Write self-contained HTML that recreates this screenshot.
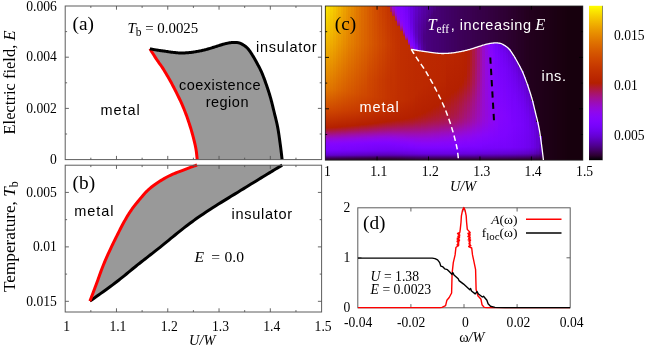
<!DOCTYPE html>
<html><head><meta charset="utf-8"><title>fig</title>
<style>
html,body{margin:0;padding:0;background:#fff;}
svg{display:block;}
.se{font-family:"Liberation Serif",serif;}
.sa{font-family:"Liberation Sans",sans-serif;}

</style></head><body>
<svg width="645" height="346" viewBox="0 0 645 346">
<defs><filter id="idf" x="0" y="0" width="645" height="346" filterUnits="userSpaceOnUse" color-interpolation-filters="sRGB"><feOffset dx="0" dy="0"/></filter><linearGradient id="cb" x1="0" y1="0" x2="0" y2="1"><stop offset="0.0000" stop-color="#ffff00"/><stop offset="0.0312" stop-color="#fbe800"/><stop offset="0.0625" stop-color="#f7d200"/><stop offset="0.0938" stop-color="#f3be00"/><stop offset="0.1250" stop-color="#efab00"/><stop offset="0.1562" stop-color="#ea9900"/><stop offset="0.1875" stop-color="#e68900"/><stop offset="0.2188" stop-color="#e17a00"/><stop offset="0.2500" stop-color="#dd6c00"/><stop offset="0.2812" stop-color="#d85f00"/><stop offset="0.3125" stop-color="#d35300"/><stop offset="0.3438" stop-color="#cf4800"/><stop offset="0.3750" stop-color="#ca3e00"/><stop offset="0.4062" stop-color="#c43500"/><stop offset="0.4375" stop-color="#bf2d00"/><stop offset="0.4688" stop-color="#ba2600"/><stop offset="0.5000" stop-color="#b42000"/><stop offset="0.5312" stop-color="#af1a32"/><stop offset="0.5625" stop-color="#a91562"/><stop offset="0.5938" stop-color="#a3118e"/><stop offset="0.6250" stop-color="#9c0db4"/><stop offset="0.6562" stop-color="#960ad4"/><stop offset="0.6875" stop-color="#8f08ec"/><stop offset="0.7188" stop-color="#8706fa"/><stop offset="0.7500" stop-color="#8004ff"/><stop offset="0.7812" stop-color="#7703fa"/><stop offset="0.8125" stop-color="#6e02ec"/><stop offset="0.8438" stop-color="#6501d4"/><stop offset="0.8750" stop-color="#5a00b4"/><stop offset="0.9062" stop-color="#4e008e"/><stop offset="0.9375" stop-color="#400062"/><stop offset="0.9688" stop-color="#2d0032"/><stop offset="1.0000" stop-color="#000000"/></linearGradient><linearGradient id="h0" x2="0" y2="1"><stop offset="0" stop-color="#fae400"/><stop offset=".536" stop-color="#e17800"/><stop offset=".682" stop-color="#ce4600"/><stop offset=".789" stop-color="#b52000"/><stop offset=".795" stop-color="#b31e0f"/><stop offset=".838" stop-color="#a11098"/><stop offset=".851" stop-color="#9b0dbc"/><stop offset=".860" stop-color="#960bd2"/><stop offset=".870" stop-color="#9109e4"/><stop offset=".883" stop-color="#8b07f5"/><stop offset=".893" stop-color="#8605fc"/><stop offset=".909" stop-color="#8104ff"/><stop offset=".929" stop-color="#7d04ff"/><stop offset=".938" stop-color="#7703fa"/><stop offset=".951" stop-color="#6e02ec"/><stop offset=".964" stop-color="#6501d4"/><stop offset=".968" stop-color="#6101ca"/><stop offset=".981" stop-color="#49007d"/><stop offset=".990" stop-color="#38004c"/><stop offset="1" stop-color="#2b002e"/></linearGradient>
<linearGradient id="h1" x2="0" y2="1"><stop offset="0" stop-color="#f9dc00"/><stop offset=".234" stop-color="#f0b200"/><stop offset=".536" stop-color="#e07600"/><stop offset=".682" stop-color="#cd4500"/><stop offset=".789" stop-color="#b42000"/><stop offset=".799" stop-color="#b11d1c"/><stop offset=".838" stop-color="#a11099"/><stop offset=".857" stop-color="#970bcd"/><stop offset=".870" stop-color="#9109e5"/><stop offset=".883" stop-color="#8a06f5"/><stop offset=".893" stop-color="#8505fc"/><stop offset=".909" stop-color="#8104ff"/><stop offset=".929" stop-color="#7d03fe"/><stop offset=".938" stop-color="#7703fa"/><stop offset=".951" stop-color="#6e02eb"/><stop offset=".964" stop-color="#6401d3"/><stop offset=".968" stop-color="#6101c9"/><stop offset=".981" stop-color="#48007c"/><stop offset=".990" stop-color="#37004a"/><stop offset="1" stop-color="#2b002d"/></linearGradient>
<linearGradient id="h2" x2="0" y2="1"><stop offset="0" stop-color="#f7d200"/><stop offset=".237" stop-color="#efac00"/><stop offset=".539" stop-color="#df7200"/><stop offset=".679" stop-color="#cd4500"/><stop offset=".786" stop-color="#b52100"/><stop offset=".789" stop-color="#b42002"/><stop offset=".792" stop-color="#b31f0b"/><stop offset=".841" stop-color="#9f0fa5"/><stop offset=".860" stop-color="#950ad5"/><stop offset=".870" stop-color="#9008e6"/><stop offset=".883" stop-color="#8a06f6"/><stop offset=".893" stop-color="#8505fd"/><stop offset=".909" stop-color="#8004ff"/><stop offset=".929" stop-color="#7c03fe"/><stop offset=".938" stop-color="#7703f9"/><stop offset=".951" stop-color="#6e02ea"/><stop offset=".964" stop-color="#6401d2"/><stop offset=".968" stop-color="#6101c8"/><stop offset=".981" stop-color="#48007b"/><stop offset=".990" stop-color="#370049"/><stop offset="1" stop-color="#2a002c"/></linearGradient>
<linearGradient id="h3" x2="0" y2="1"><stop offset="0" stop-color="#f5c800"/><stop offset=".240" stop-color="#eda500"/><stop offset=".542" stop-color="#dd6e00"/><stop offset=".682" stop-color="#cc4300"/><stop offset=".786" stop-color="#b52000"/><stop offset=".789" stop-color="#b41f06"/><stop offset=".795" stop-color="#b11d19"/><stop offset=".838" stop-color="#a0109e"/><stop offset=".857" stop-color="#970bd0"/><stop offset=".867" stop-color="#9209e2"/><stop offset=".880" stop-color="#8b07f4"/><stop offset=".893" stop-color="#8505fd"/><stop offset=".906" stop-color="#8104ff"/><stop offset=".929" stop-color="#7c03fe"/><stop offset=".938" stop-color="#7603f9"/><stop offset=".951" stop-color="#6d02e9"/><stop offset=".964" stop-color="#6401d1"/><stop offset=".968" stop-color="#6001c7"/><stop offset=".981" stop-color="#480079"/><stop offset=".990" stop-color="#370048"/><stop offset="1" stop-color="#2a002b"/></linearGradient>
<linearGradient id="h4" x2="0" y2="1"><stop offset="0" stop-color="#f3be00"/><stop offset=".240" stop-color="#eb9e00"/><stop offset=".545" stop-color="#dc6900"/><stop offset=".682" stop-color="#cb4200"/><stop offset=".786" stop-color="#b42000"/><stop offset=".834" stop-color="#a11097"/><stop offset=".857" stop-color="#960bd1"/><stop offset=".867" stop-color="#9109e3"/><stop offset=".880" stop-color="#8b07f4"/><stop offset=".893" stop-color="#8405fd"/><stop offset=".906" stop-color="#8004ff"/><stop offset=".929" stop-color="#7c03fe"/><stop offset=".938" stop-color="#7603f9"/><stop offset=".951" stop-color="#6d02e9"/><stop offset=".964" stop-color="#6301d0"/><stop offset=".968" stop-color="#6001c6"/><stop offset=".981" stop-color="#470078"/><stop offset=".990" stop-color="#360047"/><stop offset="1" stop-color="#29002a"/></linearGradient>
<linearGradient id="h5" x2="0" y2="1"><stop offset="0" stop-color="#f1b400"/><stop offset=".240" stop-color="#ea9800"/><stop offset=".545" stop-color="#db6600"/><stop offset=".679" stop-color="#cb4200"/><stop offset=".782" stop-color="#b52000"/><stop offset=".786" stop-color="#b41f04"/><stop offset=".792" stop-color="#b21d17"/><stop offset=".838" stop-color="#9f0fa3"/><stop offset=".857" stop-color="#960ad3"/><stop offset=".867" stop-color="#9109e5"/><stop offset=".880" stop-color="#8a07f5"/><stop offset=".893" stop-color="#8405fd"/><stop offset=".906" stop-color="#8004ff"/><stop offset=".929" stop-color="#7b03fe"/><stop offset=".938" stop-color="#7602f8"/><stop offset=".951" stop-color="#6d02e8"/><stop offset=".964" stop-color="#6301cf"/><stop offset=".968" stop-color="#5f01c5"/><stop offset=".981" stop-color="#470077"/><stop offset=".990" stop-color="#360046"/><stop offset="1" stop-color="#290029"/></linearGradient>
<linearGradient id="h6" x2="0" y2="1"><stop offset="0" stop-color="#efab00"/><stop offset=".244" stop-color="#e89200"/><stop offset=".549" stop-color="#da6200"/><stop offset=".679" stop-color="#cb4000"/><stop offset=".782" stop-color="#b42000"/><stop offset=".799" stop-color="#af1b2e"/><stop offset=".834" stop-color="#a0109c"/><stop offset=".854" stop-color="#970bce"/><stop offset=".864" stop-color="#9209e0"/><stop offset=".877" stop-color="#8c07f2"/><stop offset=".890" stop-color="#8505fd"/><stop offset=".903" stop-color="#8104ff"/><stop offset=".935" stop-color="#7703fa"/><stop offset=".948" stop-color="#6f02ec"/><stop offset=".964" stop-color="#6201cd"/><stop offset=".968" stop-color="#5f01c3"/><stop offset=".981" stop-color="#460076"/><stop offset=".990" stop-color="#350045"/><stop offset="1" stop-color="#280028"/></linearGradient>
<linearGradient id="h7" x2="0" y2="1"><stop offset="0" stop-color="#eca200"/><stop offset=".244" stop-color="#e78c00"/><stop offset=".552" stop-color="#d85f00"/><stop offset=".679" stop-color="#ca3f00"/><stop offset=".779" stop-color="#b52100"/><stop offset=".782" stop-color="#b42003"/><stop offset=".792" stop-color="#b11c1e"/><stop offset=".838" stop-color="#9e0fa7"/><stop offset=".857" stop-color="#950ad6"/><stop offset=".867" stop-color="#9008e7"/><stop offset=".880" stop-color="#8a06f6"/><stop offset=".890" stop-color="#8505fd"/><stop offset=".903" stop-color="#8004ff"/><stop offset=".935" stop-color="#7703fa"/><stop offset=".948" stop-color="#6e02eb"/><stop offset=".961" stop-color="#6501d4"/><stop offset=".968" stop-color="#5f01c2"/><stop offset=".981" stop-color="#460074"/><stop offset=".990" stop-color="#350044"/><stop offset="1" stop-color="#280027"/></linearGradient>
<linearGradient id="h8" x2="0" y2="1"><stop offset="0" stop-color="#ea9900"/><stop offset=".244" stop-color="#e58600"/><stop offset=".555" stop-color="#d75b00"/><stop offset=".679" stop-color="#ca3e00"/><stop offset=".779" stop-color="#b42000"/><stop offset=".795" stop-color="#af1b2b"/><stop offset=".834" stop-color="#a00fa0"/><stop offset=".854" stop-color="#960bd1"/><stop offset=".864" stop-color="#9109e3"/><stop offset=".877" stop-color="#8b07f4"/><stop offset=".890" stop-color="#8405fd"/><stop offset=".899" stop-color="#8104ff"/><stop offset=".929" stop-color="#7a03fd"/><stop offset=".935" stop-color="#7703f9"/><stop offset=".948" stop-color="#6e02ea"/><stop offset=".961" stop-color="#6401d3"/><stop offset=".968" stop-color="#5e01c1"/><stop offset=".981" stop-color="#460073"/><stop offset=".990" stop-color="#340043"/><stop offset="1" stop-color="#270026"/></linearGradient>
<linearGradient id="h9" x2="0" y2="1"><stop offset="0" stop-color="#e89100"/><stop offset=".244" stop-color="#e38000"/><stop offset=".558" stop-color="#d65800"/><stop offset=".679" stop-color="#c93d00"/><stop offset=".776" stop-color="#b52100"/><stop offset=".779" stop-color="#b42002"/><stop offset=".786" stop-color="#b21e14"/><stop offset=".834" stop-color="#9f0fa3"/><stop offset=".854" stop-color="#960bd2"/><stop offset=".864" stop-color="#9109e4"/><stop offset=".877" stop-color="#8b07f5"/><stop offset=".890" stop-color="#8405fd"/><stop offset=".899" stop-color="#8004ff"/><stop offset=".929" stop-color="#7a03fd"/><stop offset=".935" stop-color="#7603f9"/><stop offset=".948" stop-color="#6e02ea"/><stop offset=".961" stop-color="#6401d1"/><stop offset=".968" stop-color="#5e01c0"/><stop offset=".981" stop-color="#450072"/><stop offset=".990" stop-color="#340042"/><stop offset="1" stop-color="#270025"/></linearGradient>
<linearGradient id="h10" x2="0" y2="1"><stop offset="0" stop-color="#e68900"/><stop offset=".244" stop-color="#e27b00"/><stop offset=".562" stop-color="#d45500"/><stop offset=".679" stop-color="#c83c00"/><stop offset=".776" stop-color="#b52000"/><stop offset=".792" stop-color="#b01b29"/><stop offset=".834" stop-color="#9f0fa5"/><stop offset=".854" stop-color="#960ad4"/><stop offset=".864" stop-color="#9109e5"/><stop offset=".877" stop-color="#8a06f5"/><stop offset=".890" stop-color="#8405fe"/><stop offset=".899" stop-color="#8004ff"/><stop offset=".932" stop-color="#7803fb"/><stop offset=".945" stop-color="#6f02ee"/><stop offset=".961" stop-color="#6401d0"/><stop offset=".968" stop-color="#5e01bf"/><stop offset=".981" stop-color="#450071"/><stop offset=".990" stop-color="#340041"/><stop offset="1" stop-color="#260024"/></linearGradient>
<linearGradient id="h11" x2="0" y2="1"><stop offset="0" stop-color="#e48100"/><stop offset=".244" stop-color="#e07600"/><stop offset=".565" stop-color="#d35200"/><stop offset=".679" stop-color="#c83b00"/><stop offset=".773" stop-color="#b52100"/><stop offset=".776" stop-color="#b42002"/><stop offset=".782" stop-color="#b21e13"/><stop offset=".831" stop-color="#a0109e"/><stop offset=".854" stop-color="#950ad5"/><stop offset=".873" stop-color="#8c07f3"/><stop offset=".886" stop-color="#8505fd"/><stop offset=".896" stop-color="#8104ff"/><stop offset=".932" stop-color="#7803fb"/><stop offset=".945" stop-color="#6f02ed"/><stop offset=".958" stop-color="#6601d6"/><stop offset=".968" stop-color="#5d01be"/><stop offset=".981" stop-color="#44006f"/><stop offset=".987" stop-color="#39004f"/><stop offset=".990" stop-color="#330040"/><stop offset="1" stop-color="#260023"/></linearGradient>
<linearGradient id="h12" x2="0" y2="1"><stop offset="0" stop-color="#e17900"/><stop offset=".244" stop-color="#df7100"/><stop offset=".568" stop-color="#d24f00"/><stop offset=".679" stop-color="#c73a00"/><stop offset=".773" stop-color="#b42000"/><stop offset=".792" stop-color="#af1a31"/><stop offset=".834" stop-color="#9e0eaa"/><stop offset=".851" stop-color="#960bd0"/><stop offset=".860" stop-color="#9209e2"/><stop offset=".873" stop-color="#8b07f4"/><stop offset=".886" stop-color="#8505fd"/><stop offset=".896" stop-color="#8004ff"/><stop offset=".932" stop-color="#7703fa"/><stop offset=".945" stop-color="#6f02ec"/><stop offset=".958" stop-color="#6501d5"/><stop offset=".968" stop-color="#5d01bc"/><stop offset=".981" stop-color="#44006e"/><stop offset=".987" stop-color="#39004e"/><stop offset=".990" stop-color="#33003f"/><stop offset="1" stop-color="#250022"/></linearGradient>
<linearGradient id="h13" x2="0" y2="1"><stop offset="0" stop-color="#df7200"/><stop offset=".247" stop-color="#dd6c00"/><stop offset=".571" stop-color="#d04c00"/><stop offset=".679" stop-color="#c63900"/><stop offset=".769" stop-color="#b52000"/><stop offset=".773" stop-color="#b42003"/><stop offset=".782" stop-color="#b11d1b"/><stop offset=".831" stop-color="#9f0fa3"/><stop offset=".851" stop-color="#960bd2"/><stop offset=".860" stop-color="#9109e4"/><stop offset=".873" stop-color="#8b07f4"/><stop offset=".886" stop-color="#8405fd"/><stop offset=".896" stop-color="#8004ff"/><stop offset=".932" stop-color="#7703fa"/><stop offset=".945" stop-color="#6e02eb"/><stop offset=".958" stop-color="#6501d4"/><stop offset=".968" stop-color="#5c01bb"/><stop offset=".981" stop-color="#44006d"/><stop offset=".987" stop-color="#38004d"/><stop offset=".990" stop-color="#32003e"/><stop offset="1" stop-color="#250021"/></linearGradient>
<linearGradient id="h14" x2="0" y2="1"><stop offset="0" stop-color="#dd6b00"/><stop offset=".247" stop-color="#db6700"/><stop offset=".575" stop-color="#cf4900"/><stop offset=".679" stop-color="#c63700"/><stop offset=".769" stop-color="#b42000"/><stop offset=".792" stop-color="#ae1a38"/><stop offset=".834" stop-color="#9d0eae"/><stop offset=".851" stop-color="#960ad3"/><stop offset=".870" stop-color="#8c07f2"/><stop offset=".883" stop-color="#8605fc"/><stop offset=".893" stop-color="#8104ff"/><stop offset=".932" stop-color="#7703f9"/><stop offset=".945" stop-color="#6e02eb"/><stop offset=".958" stop-color="#6401d3"/><stop offset=".968" stop-color="#5c01ba"/><stop offset=".981" stop-color="#43006c"/><stop offset=".987" stop-color="#38004c"/><stop offset=".990" stop-color="#32003d"/><stop offset="1" stop-color="#240020"/></linearGradient>
<linearGradient id="h15" x2="0" y2="1"><stop offset="0" stop-color="#da6500"/><stop offset=".247" stop-color="#da6200"/><stop offset=".578" stop-color="#ce4700"/><stop offset=".679" stop-color="#c53600"/><stop offset=".766" stop-color="#b52000"/><stop offset=".769" stop-color="#b41f03"/><stop offset=".782" stop-color="#b01c22"/><stop offset=".831" stop-color="#9e0fa8"/><stop offset=".851" stop-color="#950ad5"/><stop offset=".870" stop-color="#8c07f2"/><stop offset=".883" stop-color="#8505fc"/><stop offset=".893" stop-color="#8004ff"/><stop offset=".932" stop-color="#7603f9"/><stop offset=".945" stop-color="#6e02ea"/><stop offset=".958" stop-color="#6401d2"/><stop offset=".968" stop-color="#5c01b9"/><stop offset=".981" stop-color="#43006a"/><stop offset=".987" stop-color="#38004b"/><stop offset=".990" stop-color="#32003c"/><stop offset="1" stop-color="#240020"/></linearGradient>
<linearGradient id="h16" x2="0" y2="1"><stop offset="0" stop-color="#d85e00"/><stop offset=".247" stop-color="#d85e00"/><stop offset=".477" stop-color="#cf4900"/><stop offset=".581" stop-color="#cd4400"/><stop offset=".679" stop-color="#c43500"/><stop offset=".766" stop-color="#b42000"/><stop offset=".792" stop-color="#ad193f"/><stop offset=".831" stop-color="#9e0eaa"/><stop offset=".847" stop-color="#970bd0"/><stop offset=".857" stop-color="#9209e2"/><stop offset=".870" stop-color="#8b07f3"/><stop offset=".883" stop-color="#8505fd"/><stop offset=".893" stop-color="#8004ff"/><stop offset=".932" stop-color="#7602f8"/><stop offset=".945" stop-color="#6d02e9"/><stop offset=".958" stop-color="#6401d1"/><stop offset=".968" stop-color="#5b01b8"/><stop offset=".981" stop-color="#420069"/><stop offset=".987" stop-color="#37004a"/><stop offset=".990" stop-color="#31003b"/><stop offset="1" stop-color="#23001f"/></linearGradient>
<linearGradient id="h17" x2="0" y2="1"><stop offset="0" stop-color="#d65800"/><stop offset=".247" stop-color="#d65900"/><stop offset=".477" stop-color="#ce4600"/><stop offset=".584" stop-color="#cc4200"/><stop offset=".679" stop-color="#c43400"/><stop offset=".763" stop-color="#b52000"/><stop offset=".766" stop-color="#b41f04"/><stop offset=".782" stop-color="#af1b2a"/><stop offset=".831" stop-color="#9e0eac"/><stop offset=".851" stop-color="#950ad8"/><stop offset=".870" stop-color="#8b07f4"/><stop offset=".883" stop-color="#8405fd"/><stop offset=".893" stop-color="#8004ff"/><stop offset=".932" stop-color="#7602f8"/><stop offset=".945" stop-color="#6d02e8"/><stop offset=".958" stop-color="#6301d0"/><stop offset=".968" stop-color="#5b01b6"/><stop offset=".981" stop-color="#420068"/><stop offset=".987" stop-color="#370049"/><stop offset=".990" stop-color="#31003a"/><stop offset="1" stop-color="#23001e"/></linearGradient>
<linearGradient id="h18" x2="0" y2="1"><stop offset="0" stop-color="#d35200"/><stop offset=".247" stop-color="#d45500"/><stop offset=".477" stop-color="#cc4400"/><stop offset=".584" stop-color="#cb4000"/><stop offset=".662" stop-color="#c53600"/><stop offset=".760" stop-color="#b52100"/><stop offset=".763" stop-color="#b42002"/><stop offset=".779" stop-color="#b01c26"/><stop offset=".831" stop-color="#9d0eae"/><stop offset=".851" stop-color="#940ad9"/><stop offset=".870" stop-color="#8b07f5"/><stop offset=".883" stop-color="#8405fd"/><stop offset=".893" stop-color="#7f04ff"/><stop offset=".932" stop-color="#7502f8"/><stop offset=".942" stop-color="#6f02ec"/><stop offset=".955" stop-color="#6501d6"/><stop offset=".964" stop-color="#5e01c0"/><stop offset=".968" stop-color="#5a01b5"/><stop offset=".981" stop-color="#420067"/><stop offset=".987" stop-color="#360048"/><stop offset=".990" stop-color="#310039"/><stop offset="1" stop-color="#22001d"/></linearGradient>
<linearGradient id="h19" x2="0" y2="1"><stop offset="0" stop-color="#d14d00"/><stop offset=".247" stop-color="#d35100"/><stop offset=".481" stop-color="#cb4100"/><stop offset=".588" stop-color="#c93e00"/><stop offset=".666" stop-color="#c43500"/><stop offset=".760" stop-color="#b42000"/><stop offset=".782" stop-color="#af1a32"/><stop offset=".828" stop-color="#9e0fa8"/><stop offset=".847" stop-color="#950ad4"/><stop offset=".867" stop-color="#8c07f2"/><stop offset=".877" stop-color="#8706fa"/><stop offset=".890" stop-color="#8004ff"/><stop offset=".932" stop-color="#7502f7"/><stop offset=".942" stop-color="#6e02eb"/><stop offset=".955" stop-color="#6501d5"/><stop offset=".964" stop-color="#5d01bf"/><stop offset=".968" stop-color="#5a00b4"/><stop offset=".981" stop-color="#410066"/><stop offset=".987" stop-color="#360047"/><stop offset=".990" stop-color="#300039"/><stop offset="1" stop-color="#22001c"/></linearGradient>
<linearGradient id="h20" x2="0" y2="1"><stop offset="0" stop-color="#ce4700"/><stop offset=".247" stop-color="#d14d00"/><stop offset=".481" stop-color="#c93e00"/><stop offset=".591" stop-color="#c83c00"/><stop offset=".666" stop-color="#c33400"/><stop offset=".756" stop-color="#b52000"/><stop offset=".760" stop-color="#b41f04"/><stop offset=".779" stop-color="#af1b2e"/><stop offset=".828" stop-color="#9e0eab"/><stop offset=".847" stop-color="#950ad6"/><stop offset=".867" stop-color="#8c07f3"/><stop offset=".877" stop-color="#8706fb"/><stop offset=".890" stop-color="#8004ff"/><stop offset=".932" stop-color="#7402f6"/><stop offset=".942" stop-color="#6e02eb"/><stop offset=".955" stop-color="#6501d4"/><stop offset=".964" stop-color="#5d01bd"/><stop offset=".968" stop-color="#5a00b3"/><stop offset=".981" stop-color="#410065"/><stop offset=".987" stop-color="#360046"/><stop offset=".990" stop-color="#300038"/><stop offset="1" stop-color="#21001b"/></linearGradient>
<linearGradient id="h21" x2="0" y2="1"><stop offset="0" stop-color="#cc4200"/><stop offset=".247" stop-color="#cf4900"/><stop offset=".481" stop-color="#c83b00"/><stop offset=".594" stop-color="#c73a00"/><stop offset=".666" stop-color="#c33200"/><stop offset=".753" stop-color="#b52000"/><stop offset=".756" stop-color="#b42002"/><stop offset=".779" stop-color="#af1a32"/><stop offset=".828" stop-color="#9e0ead"/><stop offset=".847" stop-color="#950ad7"/><stop offset=".867" stop-color="#8b07f3"/><stop offset=".877" stop-color="#8705fb"/><stop offset=".890" stop-color="#8004ff"/><stop offset=".932" stop-color="#7402f6"/><stop offset=".942" stop-color="#6e02ea"/><stop offset=".955" stop-color="#6401d3"/><stop offset=".964" stop-color="#5d01bc"/><stop offset=".968" stop-color="#5900b2"/><stop offset=".981" stop-color="#410064"/><stop offset=".984" stop-color="#3b0055"/><stop offset=".990" stop-color="#300037"/><stop offset="1" stop-color="#21001b"/></linearGradient>
<linearGradient id="h22" x2="0" y2="1"><stop offset="0" stop-color="#c93d00"/><stop offset=".247" stop-color="#cd4500"/><stop offset=".481" stop-color="#c63900"/><stop offset=".594" stop-color="#c63800"/><stop offset=".669" stop-color="#c13100"/><stop offset=".753" stop-color="#b42000"/><stop offset=".782" stop-color="#ad193e"/><stop offset=".828" stop-color="#9d0eae"/><stop offset=".847" stop-color="#950ad8"/><stop offset=".867" stop-color="#8b07f3"/><stop offset=".877" stop-color="#8605fb"/><stop offset=".890" stop-color="#8004ff"/><stop offset=".932" stop-color="#7402f6"/><stop offset=".942" stop-color="#6d02ea"/><stop offset=".955" stop-color="#6401d2"/><stop offset=".964" stop-color="#5d01bc"/><stop offset=".968" stop-color="#5900b1"/><stop offset=".981" stop-color="#400063"/><stop offset=".984" stop-color="#3b0054"/><stop offset=".990" stop-color="#2f0037"/><stop offset="1" stop-color="#21001a"/></linearGradient>
<linearGradient id="h23" x2="0" y2="1"><stop offset="0" stop-color="#c73900"/><stop offset=".247" stop-color="#cb4100"/><stop offset=".484" stop-color="#c53600"/><stop offset=".597" stop-color="#c53600"/><stop offset=".669" stop-color="#c12f00"/><stop offset=".750" stop-color="#b42000"/><stop offset=".779" stop-color="#ae193a"/><stop offset=".828" stop-color="#9d0eb0"/><stop offset=".847" stop-color="#940ad8"/><stop offset=".867" stop-color="#8b07f3"/><stop offset=".877" stop-color="#8605fb"/><stop offset=".890" stop-color="#8004ff"/><stop offset=".932" stop-color="#7402f5"/><stop offset=".942" stop-color="#6d02e9"/><stop offset=".955" stop-color="#6401d2"/><stop offset=".964" stop-color="#5c01bb"/><stop offset=".968" stop-color="#5900b0"/><stop offset=".981" stop-color="#400063"/><stop offset=".984" stop-color="#3b0054"/><stop offset=".990" stop-color="#300037"/><stop offset="1" stop-color="#20001a"/></linearGradient>
<linearGradient id="h24" x2="0" y2="1"><stop offset="0" stop-color="#ab174e"/><stop offset=".003" stop-color="#ac1844"/><stop offset=".006" stop-color="#c43500"/><stop offset=".247" stop-color="#c93d00"/><stop offset=".484" stop-color="#c43400"/><stop offset=".597" stop-color="#c43400"/><stop offset=".666" stop-color="#c02f00"/><stop offset=".747" stop-color="#b52000"/><stop offset=".753" stop-color="#b31f09"/><stop offset=".776" stop-color="#ae1a37"/><stop offset=".828" stop-color="#9d0eb1"/><stop offset=".847" stop-color="#940ad8"/><stop offset=".857" stop-color="#9008e8"/><stop offset=".870" stop-color="#8a06f6"/><stop offset=".883" stop-color="#8305fe"/><stop offset=".893" stop-color="#7f04ff"/><stop offset=".932" stop-color="#7402f5"/><stop offset=".945" stop-color="#6b01e4"/><stop offset=".958" stop-color="#6201cc"/><stop offset=".968" stop-color="#5900af"/><stop offset=".981" stop-color="#400063"/><stop offset=".990" stop-color="#300038"/><stop offset="1" stop-color="#200019"/></linearGradient>
<linearGradient id="h25" x2="0" y2="1"><stop offset="0" stop-color="#9f0fa6"/><stop offset=".019" stop-color="#a61472"/><stop offset=".036" stop-color="#ad1940"/><stop offset=".039" stop-color="#c33300"/><stop offset=".250" stop-color="#c73900"/><stop offset=".484" stop-color="#c23200"/><stop offset=".601" stop-color="#c33200"/><stop offset=".669" stop-color="#bf2d00"/><stop offset=".744" stop-color="#b52000"/><stop offset=".750" stop-color="#b31f08"/><stop offset=".773" stop-color="#ae1a33"/><stop offset=".831" stop-color="#9b0db8"/><stop offset=".851" stop-color="#9309de"/><stop offset=".860" stop-color="#8f08ec"/><stop offset=".873" stop-color="#8906f8"/><stop offset=".886" stop-color="#8205fe"/><stop offset=".899" stop-color="#7d04fe"/><stop offset=".932" stop-color="#7402f5"/><stop offset=".945" stop-color="#6b01e4"/><stop offset=".958" stop-color="#6201cc"/><stop offset=".968" stop-color="#5900af"/><stop offset=".981" stop-color="#410064"/><stop offset=".990" stop-color="#300039"/><stop offset="1" stop-color="#200019"/></linearGradient>
<linearGradient id="h26" x2="0" y2="1"><stop offset="0" stop-color="#9008e7"/><stop offset=".010" stop-color="#940adb"/><stop offset=".026" stop-color="#9b0dbb"/><stop offset=".045" stop-color="#a31287"/><stop offset=".058" stop-color="#a9165f"/><stop offset=".065" stop-color="#ac1847"/><stop offset=".068" stop-color="#c23100"/><stop offset=".253" stop-color="#c53600"/><stop offset=".604" stop-color="#c23100"/><stop offset=".669" stop-color="#be2c00"/><stop offset=".744" stop-color="#b42001"/><stop offset=".776" stop-color="#ad193d"/><stop offset=".828" stop-color="#9d0eb1"/><stop offset=".847" stop-color="#950ad8"/><stop offset=".870" stop-color="#8a07f5"/><stop offset=".893" stop-color="#8004ff"/><stop offset=".932" stop-color="#7402f5"/><stop offset=".945" stop-color="#6b01e5"/><stop offset=".958" stop-color="#6201cd"/><stop offset=".968" stop-color="#5900af"/><stop offset=".981" stop-color="#410065"/><stop offset=".990" stop-color="#31003a"/><stop offset="1" stop-color="#200019"/></linearGradient>
<linearGradient id="h27" x2="0" y2="1"><stop offset="0" stop-color="#8405fd"/><stop offset=".023" stop-color="#8b07f3"/><stop offset=".042" stop-color="#9209e3"/><stop offset=".052" stop-color="#960ad4"/><stop offset=".062" stop-color="#9a0dbe"/><stop offset=".081" stop-color="#a41282"/><stop offset=".097" stop-color="#ad1843"/><stop offset=".101" stop-color="#c13000"/><stop offset=".256" stop-color="#c33300"/><stop offset=".607" stop-color="#c13000"/><stop offset=".669" stop-color="#be2b00"/><stop offset=".740" stop-color="#b42000"/><stop offset=".776" stop-color="#ad193f"/><stop offset=".828" stop-color="#9d0eb1"/><stop offset=".847" stop-color="#950ad7"/><stop offset=".870" stop-color="#8b07f4"/><stop offset=".893" stop-color="#8004ff"/><stop offset=".916" stop-color="#7903fc"/><stop offset=".932" stop-color="#7402f5"/><stop offset=".945" stop-color="#6c01e5"/><stop offset=".958" stop-color="#6301ce"/><stop offset=".968" stop-color="#5900b0"/><stop offset=".981" stop-color="#410066"/><stop offset=".990" stop-color="#31003b"/><stop offset="1" stop-color="#200019"/></linearGradient>
<linearGradient id="h28" x2="0" y2="1"><stop offset="0" stop-color="#8104ff"/><stop offset=".052" stop-color="#8706fb"/><stop offset=".071" stop-color="#8d07ef"/><stop offset=".088" stop-color="#940ada"/><stop offset=".097" stop-color="#9a0cc2"/><stop offset=".104" stop-color="#9e0eac"/><stop offset=".117" stop-color="#a5137a"/><stop offset=".127" stop-color="#ab174d"/><stop offset=".130" stop-color="#c02f00"/><stop offset=".256" stop-color="#c23100"/><stop offset=".607" stop-color="#c02e00"/><stop offset=".669" stop-color="#bd2a00"/><stop offset=".737" stop-color="#b52000"/><stop offset=".747" stop-color="#b31e0d"/><stop offset=".769" stop-color="#ae1a35"/><stop offset=".831" stop-color="#9c0db7"/><stop offset=".851" stop-color="#940adb"/><stop offset=".873" stop-color="#8a06f6"/><stop offset=".896" stop-color="#8004ff"/><stop offset=".932" stop-color="#7402f6"/><stop offset=".945" stop-color="#6c01e6"/><stop offset=".958" stop-color="#6301d0"/><stop offset=".968" stop-color="#5900b0"/><stop offset=".981" stop-color="#420067"/><stop offset=".990" stop-color="#32003d"/><stop offset="1" stop-color="#20001a"/></linearGradient>
<linearGradient id="h29" x2="0" y2="1"><stop offset="0" stop-color="#7d04ff"/><stop offset=".091" stop-color="#8405fd"/><stop offset=".107" stop-color="#8b07f4"/><stop offset=".120" stop-color="#9109e5"/><stop offset=".127" stop-color="#950ad8"/><stop offset=".136" stop-color="#9c0db7"/><stop offset=".149" stop-color="#a5137c"/><stop offset=".156" stop-color="#aa165a"/><stop offset=".159" stop-color="#ac1848"/><stop offset=".162" stop-color="#c02e00"/><stop offset=".607" stop-color="#bf2e00"/><stop offset=".737" stop-color="#b42001"/><stop offset=".773" stop-color="#ad193d"/><stop offset=".831" stop-color="#9c0db7"/><stop offset=".851" stop-color="#940ad9"/><stop offset=".864" stop-color="#8f08eb"/><stop offset=".877" stop-color="#8906f7"/><stop offset=".899" stop-color="#8004ff"/><stop offset=".932" stop-color="#7402f6"/><stop offset=".945" stop-color="#6c02e7"/><stop offset=".958" stop-color="#6401d1"/><stop offset=".968" stop-color="#5900b1"/><stop offset=".981" stop-color="#420069"/><stop offset=".990" stop-color="#33003e"/><stop offset="1" stop-color="#20001a"/></linearGradient>
<linearGradient id="h30" x2="0" y2="1"><stop offset="0" stop-color="#7903fc"/><stop offset=".123" stop-color="#8305fe"/><stop offset=".136" stop-color="#8505fd"/><stop offset=".149" stop-color="#8c07f2"/><stop offset=".162" stop-color="#940ada"/><stop offset=".169" stop-color="#9a0cc2"/><stop offset=".175" stop-color="#9f0fa1"/><stop offset=".185" stop-color="#a7146b"/><stop offset=".192" stop-color="#ad1940"/><stop offset=".195" stop-color="#bf2e00"/><stop offset=".607" stop-color="#bf2d00"/><stop offset=".734" stop-color="#b42000"/><stop offset=".769" stop-color="#ae1939"/><stop offset=".831" stop-color="#9c0db6"/><stop offset=".851" stop-color="#950ad8"/><stop offset=".864" stop-color="#8f08ea"/><stop offset=".877" stop-color="#8a06f6"/><stop offset=".899" stop-color="#8004ff"/><stop offset=".916" stop-color="#7b03fd"/><stop offset=".932" stop-color="#7502f7"/><stop offset=".945" stop-color="#6d02e8"/><stop offset=".958" stop-color="#6401d3"/><stop offset=".968" stop-color="#5900b2"/><stop offset=".981" stop-color="#43006b"/><stop offset=".990" stop-color="#330040"/><stop offset="1" stop-color="#21001a"/></linearGradient>
<linearGradient id="h31" x2="0" y2="1"><stop offset="0" stop-color="#7402f6"/><stop offset=".136" stop-color="#7f04ff"/><stop offset=".175" stop-color="#8405fd"/><stop offset=".182" stop-color="#8806f9"/><stop offset=".195" stop-color="#9109e3"/><stop offset=".198" stop-color="#940ad9"/><stop offset=".205" stop-color="#9b0dba"/><stop offset=".214" stop-color="#a5137e"/><stop offset=".221" stop-color="#ab174f"/><stop offset=".224" stop-color="#bf2d00"/><stop offset=".604" stop-color="#be2c00"/><stop offset=".731" stop-color="#b42000"/><stop offset=".766" stop-color="#ae1a36"/><stop offset=".831" stop-color="#9c0db5"/><stop offset=".857" stop-color="#9209e0"/><stop offset=".873" stop-color="#8c07f2"/><stop offset=".886" stop-color="#8605fb"/><stop offset=".916" stop-color="#7b03fe"/><stop offset=".935" stop-color="#7302f4"/><stop offset=".958" stop-color="#6501d5"/><stop offset=".968" stop-color="#5a00b3"/><stop offset=".981" stop-color="#43006d"/><stop offset="1" stop-color="#21001b"/></linearGradient>
<linearGradient id="h32" x2="0" y2="1"><stop offset="0" stop-color="#6e02ea"/><stop offset=".107" stop-color="#7402f6"/><stop offset=".175" stop-color="#7d04fe"/><stop offset=".218" stop-color="#8706fb"/><stop offset=".224" stop-color="#8c07f1"/><stop offset=".231" stop-color="#9209e1"/><stop offset=".237" stop-color="#9a0cc1"/><stop offset=".247" stop-color="#a5137c"/><stop offset=".253" stop-color="#ac1846"/><stop offset=".256" stop-color="#be2c00"/><stop offset=".604" stop-color="#bd2b00"/><stop offset=".727" stop-color="#b42000"/><stop offset=".747" stop-color="#b11d1a"/><stop offset=".766" stop-color="#ae1939"/><stop offset=".831" stop-color="#9c0db5"/><stop offset=".857" stop-color="#9309df"/><stop offset=".873" stop-color="#8c07f1"/><stop offset=".886" stop-color="#8706fa"/><stop offset=".899" stop-color="#8204ff"/><stop offset=".916" stop-color="#7c03fe"/><stop offset=".935" stop-color="#7402f5"/><stop offset=".958" stop-color="#6601d7"/><stop offset=".968" stop-color="#5a00b4"/><stop offset=".981" stop-color="#44006e"/><stop offset="1" stop-color="#22001c"/></linearGradient>
<linearGradient id="h33" x2="0" y2="1"><stop offset="0" stop-color="#6701da"/><stop offset=".026" stop-color="#6901e0"/><stop offset=".104" stop-color="#6a01e2"/><stop offset=".143" stop-color="#6d02e9"/><stop offset=".214" stop-color="#7b03fe"/><stop offset=".237" stop-color="#8104ff"/><stop offset=".253" stop-color="#8605fb"/><stop offset=".260" stop-color="#8d07f0"/><stop offset=".266" stop-color="#940ada"/><stop offset=".273" stop-color="#9d0eae"/><stop offset=".279" stop-color="#a61378"/><stop offset=".282" stop-color="#be2c00"/><stop offset=".597" stop-color="#bd2a00"/><stop offset=".721" stop-color="#b52000"/><stop offset=".737" stop-color="#b21e11"/><stop offset=".760" stop-color="#af1a32"/><stop offset=".831" stop-color="#9c0db5"/><stop offset=".857" stop-color="#9309dd"/><stop offset=".873" stop-color="#8d07f0"/><stop offset=".886" stop-color="#8806f9"/><stop offset=".899" stop-color="#8305fe"/><stop offset=".916" stop-color="#7d04fe"/><stop offset=".935" stop-color="#7402f6"/><stop offset=".958" stop-color="#6701d9"/><stop offset=".968" stop-color="#5b01b6"/><stop offset=".981" stop-color="#450070"/><stop offset="1" stop-color="#22001d"/></linearGradient>
<linearGradient id="h34" x2="0" y2="1"><stop offset="0" stop-color="#6301ce"/><stop offset=".029" stop-color="#6401d1"/><stop offset=".114" stop-color="#6201cd"/><stop offset=".153" stop-color="#6401d1"/><stop offset=".182" stop-color="#6601d8"/><stop offset=".244" stop-color="#7703fa"/><stop offset=".263" stop-color="#7d04ff"/><stop offset=".282" stop-color="#8305fe"/><stop offset=".286" stop-color="#bd2b00"/><stop offset=".588" stop-color="#bc2a00"/><stop offset=".718" stop-color="#b42000"/><stop offset=".737" stop-color="#b21d15"/><stop offset=".760" stop-color="#ae1a36"/><stop offset=".831" stop-color="#9c0db5"/><stop offset=".857" stop-color="#9309dc"/><stop offset=".873" stop-color="#8d07ee"/><stop offset=".890" stop-color="#8706fa"/><stop offset=".919" stop-color="#7c03fe"/><stop offset=".938" stop-color="#7302f4"/><stop offset=".958" stop-color="#6701da"/><stop offset=".968" stop-color="#5b01b7"/><stop offset=".981" stop-color="#450072"/><stop offset="1" stop-color="#23001d"/></linearGradient>
<linearGradient id="h35" x2="0" y2="1"><stop offset="0" stop-color="#5e01c1"/><stop offset=".032" stop-color="#5f01c3"/><stop offset=".127" stop-color="#5b01b8"/><stop offset=".172" stop-color="#5c01bb"/><stop offset=".201" stop-color="#5f01c3"/><stop offset=".234" stop-color="#6401d2"/><stop offset=".276" stop-color="#7302f5"/><stop offset=".286" stop-color="#7602f8"/><stop offset=".289" stop-color="#bd2a00"/><stop offset=".565" stop-color="#bc2900"/><stop offset=".711" stop-color="#b42000"/><stop offset=".731" stop-color="#b21e12"/><stop offset=".756" stop-color="#ae1a35"/><stop offset=".831" stop-color="#9c0db5"/><stop offset=".860" stop-color="#9209e0"/><stop offset=".890" stop-color="#8806f9"/><stop offset=".919" stop-color="#7d04fe"/><stop offset=".938" stop-color="#7302f4"/><stop offset=".958" stop-color="#6801dc"/><stop offset=".968" stop-color="#5b01b8"/><stop offset=".981" stop-color="#460074"/><stop offset=".994" stop-color="#31003b"/><stop offset="1" stop-color="#23001e"/></linearGradient>
<linearGradient id="h36" x2="0" y2="1"><stop offset="0" stop-color="#5a00b3"/><stop offset=".026" stop-color="#5a01b5"/><stop offset=".133" stop-color="#5600a7"/><stop offset=".192" stop-color="#5600a7"/><stop offset=".234" stop-color="#5800af"/><stop offset=".279" stop-color="#6301ce"/><stop offset=".289" stop-color="#6301cf"/><stop offset=".292" stop-color="#bd2a00"/><stop offset=".536" stop-color="#bc2900"/><stop offset=".705" stop-color="#b52000"/><stop offset=".727" stop-color="#b21e14"/><stop offset=".753" stop-color="#ae1a34"/><stop offset=".776" stop-color="#aa1657"/><stop offset=".831" stop-color="#9c0db6"/><stop offset=".860" stop-color="#9309df"/><stop offset=".890" stop-color="#8806f9"/><stop offset=".919" stop-color="#7d04ff"/><stop offset=".938" stop-color="#7402f5"/><stop offset=".958" stop-color="#6801de"/><stop offset=".968" stop-color="#5c01ba"/><stop offset=".981" stop-color="#460076"/><stop offset=".994" stop-color="#32003c"/><stop offset="1" stop-color="#23001f"/></linearGradient>
<linearGradient id="h37" x2="0" y2="1"><stop offset="0" stop-color="#5700a9"/><stop offset=".036" stop-color="#5700a9"/><stop offset=".133" stop-color="#52009a"/><stop offset=".182" stop-color="#510097"/><stop offset=".227" stop-color="#52009a"/><stop offset=".292" stop-color="#5700a9"/><stop offset=".295" stop-color="#bc2900"/><stop offset=".526" stop-color="#bc2900"/><stop offset=".698" stop-color="#b42000"/><stop offset=".727" stop-color="#b11d19"/><stop offset=".753" stop-color="#ae1a38"/><stop offset=".831" stop-color="#9c0db7"/><stop offset=".860" stop-color="#9309df"/><stop offset=".890" stop-color="#8906f8"/><stop offset=".919" stop-color="#7e04ff"/><stop offset=".938" stop-color="#7402f6"/><stop offset=".958" stop-color="#6901df"/><stop offset=".968" stop-color="#5c01bb"/><stop offset=".981" stop-color="#470077"/><stop offset=".994" stop-color="#32003d"/><stop offset="1" stop-color="#24001f"/></linearGradient>
<linearGradient id="h38" x2="0" y2="1"><stop offset="0" stop-color="#5400a2"/><stop offset=".042" stop-color="#5400a0"/><stop offset=".195" stop-color="#4b0083"/><stop offset=".227" stop-color="#4b0084"/><stop offset=".292" stop-color="#4f0091"/><stop offset=".295" stop-color="#bc2900"/><stop offset=".519" stop-color="#bc2800"/><stop offset=".692" stop-color="#b42000"/><stop offset=".724" stop-color="#b11d1b"/><stop offset=".750" stop-color="#ae1a38"/><stop offset=".773" stop-color="#aa1659"/><stop offset=".831" stop-color="#9b0db8"/><stop offset=".860" stop-color="#9309df"/><stop offset=".890" stop-color="#8906f8"/><stop offset=".919" stop-color="#7e04ff"/><stop offset=".938" stop-color="#7402f6"/><stop offset=".958" stop-color="#6901e0"/><stop offset=".968" stop-color="#5c01bb"/><stop offset=".981" stop-color="#470078"/><stop offset=".990" stop-color="#38004d"/><stop offset="1" stop-color="#240020"/></linearGradient>
<linearGradient id="h39" x2="0" y2="1"><stop offset="0" stop-color="#52009b"/><stop offset=".052" stop-color="#510095"/><stop offset=".120" stop-color="#49007f"/><stop offset=".295" stop-color="#49007f"/><stop offset=".299" stop-color="#bc2800"/><stop offset=".513" stop-color="#bb2800"/><stop offset=".682" stop-color="#b42000"/><stop offset=".718" stop-color="#b11d1a"/><stop offset=".747" stop-color="#ae1a39"/><stop offset=".773" stop-color="#a9165d"/><stop offset=".831" stop-color="#9b0dba"/><stop offset=".860" stop-color="#9309df"/><stop offset=".890" stop-color="#8906f8"/><stop offset=".919" stop-color="#7e04ff"/><stop offset=".938" stop-color="#7402f6"/><stop offset=".958" stop-color="#6901e0"/><stop offset=".968" stop-color="#5d01bc"/><stop offset=".981" stop-color="#470079"/><stop offset=".990" stop-color="#39004e"/><stop offset="1" stop-color="#240020"/></linearGradient>
<linearGradient id="h40" x2="0" y2="1"><stop offset="0" stop-color="#500093"/><stop offset=".045" stop-color="#4e008e"/><stop offset=".091" stop-color="#48007b"/><stop offset=".299" stop-color="#48007b"/><stop offset=".302" stop-color="#bb2800"/><stop offset=".510" stop-color="#bb2700"/><stop offset=".675" stop-color="#b42000"/><stop offset=".718" stop-color="#b11c1f"/><stop offset=".747" stop-color="#ad193d"/><stop offset=".769" stop-color="#a9165c"/><stop offset=".831" stop-color="#9b0dbb"/><stop offset=".860" stop-color="#9209e0"/><stop offset=".890" stop-color="#8906f8"/><stop offset=".919" stop-color="#7e04ff"/><stop offset=".938" stop-color="#7402f6"/><stop offset=".958" stop-color="#6901e0"/><stop offset=".968" stop-color="#5d01bc"/><stop offset=".981" stop-color="#470079"/><stop offset=".990" stop-color="#39004e"/><stop offset="1" stop-color="#240020"/></linearGradient>
<linearGradient id="h41" x2="0" y2="1"><stop offset="0" stop-color="#4d008b"/><stop offset=".032" stop-color="#4c0088"/><stop offset=".065" stop-color="#470078"/><stop offset=".302" stop-color="#470078"/><stop offset=".305" stop-color="#bb2800"/><stop offset=".503" stop-color="#ba2700"/><stop offset=".666" stop-color="#b42000"/><stop offset=".711" stop-color="#b11c1e"/><stop offset=".744" stop-color="#ad193d"/><stop offset=".769" stop-color="#a9165f"/><stop offset=".831" stop-color="#9a0dbe"/><stop offset=".864" stop-color="#9109e5"/><stop offset=".893" stop-color="#8706fa"/><stop offset=".919" stop-color="#7e04ff"/><stop offset=".938" stop-color="#7402f6"/><stop offset=".958" stop-color="#6901e0"/><stop offset=".968" stop-color="#5d01bc"/><stop offset=".981" stop-color="#470079"/><stop offset=".990" stop-color="#39004e"/><stop offset="1" stop-color="#240020"/></linearGradient>
<linearGradient id="h42" x2="0" y2="1"><stop offset="0" stop-color="#4a0080"/><stop offset=".016" stop-color="#4a0080"/><stop offset=".045" stop-color="#460075"/><stop offset=".302" stop-color="#460075"/><stop offset=".305" stop-color="#bb2800"/><stop offset=".497" stop-color="#ba2700"/><stop offset=".653" stop-color="#b42000"/><stop offset=".705" stop-color="#b11c1e"/><stop offset=".740" stop-color="#ad193d"/><stop offset=".766" stop-color="#a9165e"/><stop offset=".831" stop-color="#9a0cc0"/><stop offset=".864" stop-color="#9108e6"/><stop offset=".893" stop-color="#8706fa"/><stop offset=".919" stop-color="#7e04ff"/><stop offset=".938" stop-color="#7402f6"/><stop offset=".958" stop-color="#6901e0"/><stop offset=".968" stop-color="#5d01bc"/><stop offset=".981" stop-color="#470079"/><stop offset=".990" stop-color="#39004e"/><stop offset="1" stop-color="#240020"/></linearGradient>
<linearGradient id="h43" x2="0" y2="1"><stop offset="0" stop-color="#460073"/><stop offset=".305" stop-color="#450073"/><stop offset=".308" stop-color="#bb2700"/><stop offset=".494" stop-color="#ba2600"/><stop offset=".643" stop-color="#b42000"/><stop offset=".705" stop-color="#b01c23"/><stop offset=".740" stop-color="#ad1941"/><stop offset=".766" stop-color="#a91561"/><stop offset=".831" stop-color="#990cc2"/><stop offset=".864" stop-color="#9008e7"/><stop offset=".893" stop-color="#8706fb"/><stop offset=".919" stop-color="#7e04ff"/><stop offset=".938" stop-color="#7402f6"/><stop offset=".958" stop-color="#6901e0"/><stop offset=".968" stop-color="#5d01bc"/><stop offset=".981" stop-color="#470079"/><stop offset=".990" stop-color="#39004e"/><stop offset="1" stop-color="#240020"/></linearGradient>
<linearGradient id="h44" x2="0" y2="1"><stop offset="0" stop-color="#440070"/><stop offset=".305" stop-color="#440070"/><stop offset=".308" stop-color="#bb2700"/><stop offset=".487" stop-color="#ba2600"/><stop offset=".627" stop-color="#b42000"/><stop offset=".688" stop-color="#b11c1e"/><stop offset=".727" stop-color="#ae1a38"/><stop offset=".760" stop-color="#a9165c"/><stop offset=".821" stop-color="#9c0db7"/><stop offset=".854" stop-color="#9309df"/><stop offset=".886" stop-color="#8906f8"/><stop offset=".919" stop-color="#7e04ff"/><stop offset=".938" stop-color="#7402f6"/><stop offset=".958" stop-color="#6901e0"/><stop offset=".968" stop-color="#5d01bc"/><stop offset=".981" stop-color="#470079"/><stop offset=".990" stop-color="#39004e"/><stop offset="1" stop-color="#240020"/></linearGradient>
<linearGradient id="h45" x2="0" y2="1"><stop offset="0" stop-color="#43006d"/><stop offset=".305" stop-color="#43006d"/><stop offset=".308" stop-color="#ba2700"/><stop offset=".484" stop-color="#b92600"/><stop offset=".614" stop-color="#b42000"/><stop offset=".688" stop-color="#b01c23"/><stop offset=".727" stop-color="#ad193d"/><stop offset=".760" stop-color="#a9165f"/><stop offset=".821" stop-color="#9b0dba"/><stop offset=".851" stop-color="#9309dd"/><stop offset=".886" stop-color="#8806f9"/><stop offset=".919" stop-color="#7e04ff"/><stop offset=".938" stop-color="#7402f6"/><stop offset=".958" stop-color="#6901e0"/><stop offset=".968" stop-color="#5d01bc"/><stop offset=".981" stop-color="#470079"/><stop offset=".990" stop-color="#39004e"/><stop offset="1" stop-color="#240020"/></linearGradient>
<linearGradient id="h46" x2="0" y2="1"><stop offset="0" stop-color="#42006a"/><stop offset=".305" stop-color="#42006a"/><stop offset=".308" stop-color="#ba2700"/><stop offset=".481" stop-color="#b92500"/><stop offset=".601" stop-color="#b42001"/><stop offset=".692" stop-color="#af1b2a"/><stop offset=".727" stop-color="#ad1941"/><stop offset=".760" stop-color="#a91563"/><stop offset=".818" stop-color="#9c0db8"/><stop offset=".851" stop-color="#9309df"/><stop offset=".883" stop-color="#8906f7"/><stop offset=".916" stop-color="#7f04ff"/><stop offset=".935" stop-color="#7602f8"/><stop offset=".958" stop-color="#6901e0"/><stop offset=".968" stop-color="#5d01bc"/><stop offset=".981" stop-color="#470079"/><stop offset=".990" stop-color="#39004e"/><stop offset="1" stop-color="#240020"/></linearGradient>
<linearGradient id="h47" x2="0" y2="1"><stop offset="0" stop-color="#410067"/><stop offset=".305" stop-color="#410067"/><stop offset=".308" stop-color="#ba2600"/><stop offset=".584" stop-color="#b42000"/><stop offset=".692" stop-color="#af1b2f"/><stop offset=".727" stop-color="#ac1845"/><stop offset=".760" stop-color="#a81566"/><stop offset=".818" stop-color="#9b0dba"/><stop offset=".851" stop-color="#9209e0"/><stop offset=".883" stop-color="#8906f8"/><stop offset=".916" stop-color="#7f04ff"/><stop offset=".935" stop-color="#7602f8"/><stop offset=".958" stop-color="#6901e0"/><stop offset=".968" stop-color="#5d01bc"/><stop offset=".981" stop-color="#470079"/><stop offset=".990" stop-color="#39004e"/><stop offset="1" stop-color="#240020"/></linearGradient>
<linearGradient id="h48" x2="0" y2="1"><stop offset="0" stop-color="#400064"/><stop offset=".305" stop-color="#400064"/><stop offset=".308" stop-color="#ba2600"/><stop offset=".575" stop-color="#b42000"/><stop offset=".698" stop-color="#ae1a38"/><stop offset=".727" stop-color="#ac1849"/><stop offset=".760" stop-color="#a8156a"/><stop offset=".818" stop-color="#9b0dbd"/><stop offset=".847" stop-color="#9309de"/><stop offset=".883" stop-color="#8806f8"/><stop offset=".916" stop-color="#7f04ff"/><stop offset=".935" stop-color="#7502f8"/><stop offset=".958" stop-color="#6901e0"/><stop offset=".968" stop-color="#5d01bc"/><stop offset=".981" stop-color="#470079"/><stop offset=".990" stop-color="#39004e"/><stop offset="1" stop-color="#240020"/></linearGradient>
<linearGradient id="h49" x2="0" y2="1"><stop offset="0" stop-color="#3f0061"/><stop offset=".302" stop-color="#3f0061"/><stop offset=".305" stop-color="#ba2600"/><stop offset=".562" stop-color="#b42000"/><stop offset=".627" stop-color="#b11c20"/><stop offset=".701" stop-color="#ad193f"/><stop offset=".727" stop-color="#ab174e"/><stop offset=".756" stop-color="#a8146a"/><stop offset=".818" stop-color="#9a0cc0"/><stop offset=".847" stop-color="#9209e0"/><stop offset=".883" stop-color="#8806f9"/><stop offset=".916" stop-color="#7e04ff"/><stop offset=".935" stop-color="#7502f8"/><stop offset=".958" stop-color="#6901e0"/><stop offset=".968" stop-color="#5d01bc"/><stop offset=".981" stop-color="#470079"/><stop offset=".990" stop-color="#39004e"/><stop offset="1" stop-color="#240020"/></linearGradient>
<linearGradient id="h50" x2="0" y2="1"><stop offset="0" stop-color="#3e005e"/><stop offset=".299" stop-color="#3e005e"/><stop offset=".302" stop-color="#b92500"/><stop offset=".549" stop-color="#b42000"/><stop offset=".620" stop-color="#b01c26"/><stop offset=".701" stop-color="#ac1847"/><stop offset=".727" stop-color="#aa1756"/><stop offset=".756" stop-color="#a71471"/><stop offset=".818" stop-color="#990cc3"/><stop offset=".847" stop-color="#9209e2"/><stop offset=".883" stop-color="#8806f9"/><stop offset=".916" stop-color="#7e04ff"/><stop offset=".935" stop-color="#7502f8"/><stop offset=".958" stop-color="#6901e0"/><stop offset=".968" stop-color="#5c01bc"/><stop offset=".981" stop-color="#470079"/><stop offset=".990" stop-color="#39004e"/><stop offset="1" stop-color="#240020"/></linearGradient>
<linearGradient id="h51" x2="0" y2="1"><stop offset="0" stop-color="#3e005b"/><stop offset=".299" stop-color="#3e005b"/><stop offset=".302" stop-color="#b92500"/><stop offset=".532" stop-color="#b42000"/><stop offset=".620" stop-color="#af1b2f"/><stop offset=".701" stop-color="#ab1751"/><stop offset=".727" stop-color="#a9165e"/><stop offset=".756" stop-color="#a61379"/><stop offset=".815" stop-color="#990cc3"/><stop offset=".847" stop-color="#9109e5"/><stop offset=".883" stop-color="#8706fa"/><stop offset=".916" stop-color="#7e04ff"/><stop offset=".935" stop-color="#7502f7"/><stop offset=".958" stop-color="#6901df"/><stop offset=".968" stop-color="#5c01bb"/><stop offset=".981" stop-color="#470079"/><stop offset=".990" stop-color="#39004e"/><stop offset="1" stop-color="#240020"/></linearGradient>
<linearGradient id="h52" x2="0" y2="1"><stop offset="0" stop-color="#3d0059"/><stop offset=".295" stop-color="#3d0059"/><stop offset=".299" stop-color="#b82400"/><stop offset=".513" stop-color="#b42000"/><stop offset=".623" stop-color="#ad193b"/><stop offset=".727" stop-color="#a81568"/><stop offset=".756" stop-color="#a41281"/><stop offset=".815" stop-color="#980cc8"/><stop offset=".844" stop-color="#9109e4"/><stop offset=".880" stop-color="#8806fa"/><stop offset=".912" stop-color="#7f04ff"/><stop offset=".935" stop-color="#7502f7"/><stop offset=".958" stop-color="#6901de"/><stop offset=".968" stop-color="#5c01ba"/><stop offset=".981" stop-color="#470079"/><stop offset=".990" stop-color="#39004e"/><stop offset="1" stop-color="#240020"/></linearGradient>
<linearGradient id="h53" x2="0" y2="1"><stop offset="0" stop-color="#3c0057"/><stop offset=".292" stop-color="#3c0057"/><stop offset=".295" stop-color="#b72300"/><stop offset=".490" stop-color="#b42000"/><stop offset=".529" stop-color="#b21e11"/><stop offset=".627" stop-color="#ac1848"/><stop offset=".724" stop-color="#a71470"/><stop offset=".756" stop-color="#a3118a"/><stop offset=".815" stop-color="#970bcd"/><stop offset=".844" stop-color="#9008e7"/><stop offset=".880" stop-color="#8706fa"/><stop offset=".912" stop-color="#7e04ff"/><stop offset=".935" stop-color="#7402f6"/><stop offset=".958" stop-color="#6801dd"/><stop offset=".968" stop-color="#5c01ba"/><stop offset=".981" stop-color="#470079"/><stop offset=".990" stop-color="#39004e"/><stop offset="1" stop-color="#240020"/></linearGradient>
<linearGradient id="h54" x2="0" y2="1"><stop offset="0" stop-color="#3b0055"/><stop offset=".286" stop-color="#3b0055"/><stop offset=".289" stop-color="#b62100"/><stop offset=".448" stop-color="#b42002"/><stop offset=".510" stop-color="#b21e14"/><stop offset=".623" stop-color="#ab1753"/><stop offset=".724" stop-color="#a5137b"/><stop offset=".753" stop-color="#a21191"/><stop offset=".815" stop-color="#960bd1"/><stop offset=".844" stop-color="#8f08ea"/><stop offset=".880" stop-color="#8605fb"/><stop offset=".912" stop-color="#7e04ff"/><stop offset=".935" stop-color="#7402f6"/><stop offset=".958" stop-color="#6801dd"/><stop offset=".968" stop-color="#5c01b9"/><stop offset=".981" stop-color="#470079"/><stop offset=".990" stop-color="#39004e"/><stop offset="1" stop-color="#240020"/></linearGradient>
<linearGradient id="h55" x2="0" y2="1"><stop offset="0" stop-color="#3b0053"/><stop offset=".282" stop-color="#3b0053"/><stop offset=".286" stop-color="#b31f08"/><stop offset=".370" stop-color="#b31f0a"/><stop offset=".455" stop-color="#b21d16"/><stop offset=".510" stop-color="#b01b27"/><stop offset=".623" stop-color="#a91562"/><stop offset=".724" stop-color="#a31288"/><stop offset=".753" stop-color="#a0109b"/><stop offset=".812" stop-color="#960ad4"/><stop offset=".841" stop-color="#8f08ea"/><stop offset=".877" stop-color="#8706fb"/><stop offset=".909" stop-color="#7e04ff"/><stop offset=".932" stop-color="#7602f8"/><stop offset=".945" stop-color="#6f02ed"/><stop offset=".958" stop-color="#6801dc"/><stop offset=".968" stop-color="#5c01b9"/><stop offset=".981" stop-color="#470079"/><stop offset=".990" stop-color="#39004e"/><stop offset="1" stop-color="#240020"/></linearGradient>
<linearGradient id="h56" x2="0" y2="1"><stop offset="0" stop-color="#3a0051"/><stop offset=".276" stop-color="#3a0051"/><stop offset=".279" stop-color="#b01c23"/><stop offset=".370" stop-color="#b01c25"/><stop offset=".464" stop-color="#af1a32"/><stop offset=".516" stop-color="#ad1941"/><stop offset=".630" stop-color="#a61376"/><stop offset=".724" stop-color="#a11095"/><stop offset=".753" stop-color="#9f0fa7"/><stop offset=".812" stop-color="#940ad9"/><stop offset=".841" stop-color="#8e08ed"/><stop offset=".877" stop-color="#8605fc"/><stop offset=".909" stop-color="#7e04ff"/><stop offset=".932" stop-color="#7602f8"/><stop offset=".945" stop-color="#6f02ed"/><stop offset=".958" stop-color="#6801dc"/><stop offset=".968" stop-color="#5c01b9"/><stop offset=".981" stop-color="#470079"/><stop offset=".990" stop-color="#39004e"/><stop offset="1" stop-color="#240020"/></linearGradient>
<linearGradient id="h57" x2="0" y2="1"><stop offset="0" stop-color="#39004e"/><stop offset=".273" stop-color="#39004e"/><stop offset=".276" stop-color="#ad1942"/><stop offset=".390" stop-color="#ac1845"/><stop offset=".461" stop-color="#ab174e"/><stop offset=".503" stop-color="#aa1657"/><stop offset=".623" stop-color="#a41285"/><stop offset=".724" stop-color="#9f0fa2"/><stop offset=".753" stop-color="#9d0eb2"/><stop offset=".808" stop-color="#9309dd"/><stop offset=".838" stop-color="#8d07ef"/><stop offset=".873" stop-color="#8605fc"/><stop offset=".909" stop-color="#7e04ff"/><stop offset=".932" stop-color="#7602f8"/><stop offset=".945" stop-color="#6f02ed"/><stop offset=".958" stop-color="#6801dc"/><stop offset=".968" stop-color="#5c01b9"/><stop offset=".981" stop-color="#470079"/><stop offset=".990" stop-color="#39004e"/><stop offset="1" stop-color="#240020"/></linearGradient>
<linearGradient id="h58" x2="0" y2="1"><stop offset="0" stop-color="#38004c"/><stop offset=".266" stop-color="#38004c"/><stop offset=".269" stop-color="#a91561"/><stop offset=".386" stop-color="#a81564"/><stop offset=".506" stop-color="#a61474"/><stop offset=".620" stop-color="#a11097"/><stop offset=".724" stop-color="#9d0eaf"/><stop offset=".753" stop-color="#9b0dbd"/><stop offset=".808" stop-color="#9209e2"/><stop offset=".838" stop-color="#8c07f2"/><stop offset=".870" stop-color="#8505fc"/><stop offset=".906" stop-color="#7e04ff"/><stop offset=".919" stop-color="#7b03fe"/><stop offset=".932" stop-color="#7502f7"/><stop offset=".945" stop-color="#6e02eb"/><stop offset=".958" stop-color="#6701db"/><stop offset=".968" stop-color="#5b01b7"/><stop offset=".990" stop-color="#39004e"/><stop offset="1" stop-color="#240020"/></linearGradient>
<linearGradient id="h59" x2="0" y2="1"><stop offset="0" stop-color="#37004a"/><stop offset=".263" stop-color="#37004a"/><stop offset=".266" stop-color="#a41282"/><stop offset=".370" stop-color="#a41283"/><stop offset=".474" stop-color="#a3118c"/><stop offset=".623" stop-color="#9e0eab"/><stop offset=".708" stop-color="#9c0db8"/><stop offset=".747" stop-color="#990cc4"/><stop offset=".838" stop-color="#8b07f5"/><stop offset=".870" stop-color="#8405fd"/><stop offset=".903" stop-color="#7e04ff"/><stop offset=".919" stop-color="#7b03fd"/><stop offset=".932" stop-color="#7402f6"/><stop offset=".945" stop-color="#6e02ea"/><stop offset=".958" stop-color="#6701d9"/><stop offset=".964" stop-color="#5f01c3"/><stop offset=".971" stop-color="#5600a8"/><stop offset=".990" stop-color="#39004e"/><stop offset="1" stop-color="#240020"/></linearGradient>
<linearGradient id="h60" x2="0" y2="1"><stop offset="0" stop-color="#360048"/><stop offset=".256" stop-color="#360048"/><stop offset=".260" stop-color="#9f0fa5"/><stop offset=".360" stop-color="#9f0fa5"/><stop offset=".464" stop-color="#9e0eaa"/><stop offset=".708" stop-color="#990cc5"/><stop offset=".747" stop-color="#970bce"/><stop offset=".834" stop-color="#8a06f6"/><stop offset=".867" stop-color="#8405fd"/><stop offset=".899" stop-color="#7e04ff"/><stop offset=".916" stop-color="#7b03fe"/><stop offset=".929" stop-color="#7602f8"/><stop offset=".942" stop-color="#6f02ed"/><stop offset=".958" stop-color="#6601d8"/><stop offset=".964" stop-color="#5f01c2"/><stop offset=".971" stop-color="#5600a7"/><stop offset=".990" stop-color="#39004e"/><stop offset="1" stop-color="#240020"/></linearGradient>
<linearGradient id="h61" x2="0" y2="1"><stop offset="0" stop-color="#360046"/><stop offset=".250" stop-color="#360046"/><stop offset=".253" stop-color="#980bc9"/><stop offset=".403" stop-color="#990cc6"/><stop offset=".708" stop-color="#960bd2"/><stop offset=".747" stop-color="#940ad9"/><stop offset=".834" stop-color="#8806f9"/><stop offset=".893" stop-color="#7e04ff"/><stop offset=".925" stop-color="#7703f9"/><stop offset=".942" stop-color="#6f02ec"/><stop offset=".958" stop-color="#6601d8"/><stop offset=".964" stop-color="#5f01c2"/><stop offset=".971" stop-color="#5600a7"/><stop offset=".990" stop-color="#39004e"/><stop offset="1" stop-color="#240020"/></linearGradient>
<linearGradient id="h62" x2="0" y2="1"><stop offset="0" stop-color="#350044"/><stop offset=".247" stop-color="#350044"/><stop offset=".250" stop-color="#9008e6"/><stop offset=".334" stop-color="#9309df"/><stop offset=".708" stop-color="#9309dd"/><stop offset=".750" stop-color="#9209e2"/><stop offset=".834" stop-color="#8706fb"/><stop offset=".890" stop-color="#7e04ff"/><stop offset=".925" stop-color="#7603f9"/><stop offset=".942" stop-color="#6e02ec"/><stop offset=".958" stop-color="#6601d8"/><stop offset=".964" stop-color="#5f01c2"/><stop offset=".971" stop-color="#5600a7"/><stop offset=".990" stop-color="#39004e"/><stop offset="1" stop-color="#240020"/></linearGradient>
<linearGradient id="h63" x2="0" y2="1"><stop offset="0" stop-color="#340041"/><stop offset=".244" stop-color="#340041"/><stop offset=".247" stop-color="#8906f8"/><stop offset=".318" stop-color="#8d07f0"/><stop offset=".708" stop-color="#9008e6"/><stop offset=".750" stop-color="#8f08ea"/><stop offset=".831" stop-color="#8605fc"/><stop offset=".883" stop-color="#7e04ff"/><stop offset=".922" stop-color="#7703fa"/><stop offset=".938" stop-color="#7002ee"/><stop offset=".958" stop-color="#6601d7"/><stop offset=".964" stop-color="#5e01c1"/><stop offset=".971" stop-color="#5600a7"/><stop offset=".990" stop-color="#39004e"/><stop offset="1" stop-color="#240020"/></linearGradient>
<linearGradient id="h64" x2="0" y2="1"><stop offset="0" stop-color="#33003f"/><stop offset=".240" stop-color="#33003f"/><stop offset=".244" stop-color="#8104ff"/><stop offset=".315" stop-color="#8706fb"/><stop offset=".510" stop-color="#8906f7"/><stop offset=".714" stop-color="#8e08ee"/><stop offset=".750" stop-color="#8d07f0"/><stop offset=".831" stop-color="#8405fd"/><stop offset=".880" stop-color="#7e04ff"/><stop offset=".922" stop-color="#7703fa"/><stop offset=".938" stop-color="#6f02ee"/><stop offset=".958" stop-color="#6501d6"/><stop offset=".971" stop-color="#5600a6"/><stop offset=".990" stop-color="#39004e"/><stop offset="1" stop-color="#240020"/></linearGradient>
<linearGradient id="h65" x2="0" y2="1"><stop offset="0" stop-color="#32003d"/><stop offset=".237" stop-color="#32003d"/><stop offset=".240" stop-color="#7903fc"/><stop offset=".312" stop-color="#8104ff"/><stop offset=".494" stop-color="#8405fd"/><stop offset=".714" stop-color="#8b07f4"/><stop offset=".773" stop-color="#8906f7"/><stop offset=".873" stop-color="#7e04ff"/><stop offset=".922" stop-color="#7703f9"/><stop offset=".938" stop-color="#6f02ed"/><stop offset=".958" stop-color="#6501d5"/><stop offset=".971" stop-color="#5600a6"/><stop offset=".990" stop-color="#39004e"/><stop offset="1" stop-color="#240020"/></linearGradient>
<linearGradient id="h66" x2="0" y2="1"><stop offset="0" stop-color="#31003b"/><stop offset=".237" stop-color="#31003b"/><stop offset=".240" stop-color="#7202f3"/><stop offset=".263" stop-color="#7603f9"/><stop offset=".315" stop-color="#7c03fe"/><stop offset=".497" stop-color="#8004ff"/><stop offset=".718" stop-color="#8906f8"/><stop offset=".773" stop-color="#8706fa"/><stop offset=".867" stop-color="#7e04ff"/><stop offset=".919" stop-color="#7803fb"/><stop offset=".938" stop-color="#6f02ec"/><stop offset=".958" stop-color="#6501d4"/><stop offset=".971" stop-color="#5500a5"/><stop offset=".990" stop-color="#39004e"/><stop offset="1" stop-color="#240020"/></linearGradient>
<linearGradient id="h67" x2="0" y2="1"><stop offset="0" stop-color="#300038"/><stop offset=".240" stop-color="#300038"/><stop offset=".244" stop-color="#6e02ea"/><stop offset=".279" stop-color="#7402f6"/><stop offset=".321" stop-color="#7803fb"/><stop offset=".419" stop-color="#7b03fe"/><stop offset=".575" stop-color="#8104ff"/><stop offset=".718" stop-color="#8605fb"/><stop offset=".857" stop-color="#7e04ff"/><stop offset=".919" stop-color="#7703fa"/><stop offset=".938" stop-color="#6f02ec"/><stop offset=".958" stop-color="#6401d3"/><stop offset=".971" stop-color="#5500a4"/><stop offset=".990" stop-color="#38004d"/><stop offset="1" stop-color="#240020"/></linearGradient>
<linearGradient id="h68" x2="0" y2="1"><stop offset="0" stop-color="#2f0036"/><stop offset=".244" stop-color="#2f0036"/><stop offset=".247" stop-color="#6a01e2"/><stop offset=".292" stop-color="#7202f3"/><stop offset=".334" stop-color="#7602f8"/><stop offset=".406" stop-color="#7903fb"/><stop offset=".581" stop-color="#7f04ff"/><stop offset=".714" stop-color="#8405fd"/><stop offset=".847" stop-color="#7e04ff"/><stop offset=".919" stop-color="#7703fa"/><stop offset=".935" stop-color="#7002ee"/><stop offset=".955" stop-color="#6601d7"/><stop offset=".958" stop-color="#6401d2"/><stop offset=".968" stop-color="#5900b0"/><stop offset=".990" stop-color="#38004c"/><stop offset="1" stop-color="#240020"/></linearGradient>
<linearGradient id="h69" x2="0" y2="1"><stop offset="0" stop-color="#2e0034"/><stop offset=".253" stop-color="#2e0034"/><stop offset=".256" stop-color="#6901de"/><stop offset=".305" stop-color="#7002ef"/><stop offset=".412" stop-color="#7703f9"/><stop offset=".711" stop-color="#8205fe"/><stop offset=".838" stop-color="#7e04ff"/><stop offset=".916" stop-color="#7803fb"/><stop offset=".932" stop-color="#7102f1"/><stop offset=".951" stop-color="#6701db"/><stop offset=".958" stop-color="#6401d1"/><stop offset=".964" stop-color="#5d01bc"/><stop offset=".987" stop-color="#3d005a"/><stop offset="1" stop-color="#240020"/></linearGradient>
<linearGradient id="h70" x2="0" y2="1"><stop offset="0" stop-color="#2d0032"/><stop offset=".263" stop-color="#2d0032"/><stop offset=".266" stop-color="#6701d9"/><stop offset=".318" stop-color="#6e02ea"/><stop offset=".393" stop-color="#7402f5"/><stop offset=".552" stop-color="#7a03fd"/><stop offset=".727" stop-color="#8104ff"/><stop offset=".821" stop-color="#7e04ff"/><stop offset=".916" stop-color="#7703fa"/><stop offset=".929" stop-color="#7202f3"/><stop offset=".945" stop-color="#6a01e2"/><stop offset=".958" stop-color="#6301d0"/><stop offset=".961" stop-color="#6001c6"/><stop offset=".971" stop-color="#5400a0"/><stop offset=".987" stop-color="#3d0059"/><stop offset="1" stop-color="#240020"/></linearGradient>
<linearGradient id="h71" x2="0" y2="1"><stop offset="0" stop-color="#2c002f"/><stop offset=".279" stop-color="#2c002f"/><stop offset=".282" stop-color="#6501d5"/><stop offset=".338" stop-color="#6c01e6"/><stop offset=".409" stop-color="#7202f2"/><stop offset=".549" stop-color="#7803fb"/><stop offset=".721" stop-color="#7f04ff"/><stop offset=".805" stop-color="#7d04ff"/><stop offset=".916" stop-color="#7703fa"/><stop offset=".929" stop-color="#7202f2"/><stop offset=".942" stop-color="#6c01e5"/><stop offset=".958" stop-color="#6301cf"/><stop offset=".961" stop-color="#6001c5"/><stop offset=".971" stop-color="#53009f"/><stop offset=".987" stop-color="#3c0058"/><stop offset="1" stop-color="#240020"/></linearGradient>
<linearGradient id="h72" x2="0" y2="1"><stop offset="0" stop-color="#2b002d"/><stop offset=".302" stop-color="#2b002d"/><stop offset=".305" stop-color="#6401d2"/><stop offset=".360" stop-color="#6a01e3"/><stop offset=".429" stop-color="#7002ef"/><stop offset=".545" stop-color="#7602f8"/><stop offset=".786" stop-color="#7d04fe"/><stop offset=".916" stop-color="#7703f9"/><stop offset=".935" stop-color="#6e02eb"/><stop offset=".955" stop-color="#6401d3"/><stop offset=".958" stop-color="#6301ce"/><stop offset=".961" stop-color="#5f01c4"/><stop offset=".971" stop-color="#53009e"/><stop offset=".987" stop-color="#3c0057"/><stop offset="1" stop-color="#240020"/></linearGradient>
<linearGradient id="h73" x2="0" y2="1"><stop offset="0" stop-color="#2a002b"/><stop offset=".328" stop-color="#2a002b"/><stop offset=".331" stop-color="#6301d0"/><stop offset=".409" stop-color="#6c01e5"/><stop offset=".474" stop-color="#7002ef"/><stop offset=".620" stop-color="#7803fb"/><stop offset=".773" stop-color="#7c03fe"/><stop offset=".916" stop-color="#7602f8"/><stop offset=".932" stop-color="#6f02ed"/><stop offset=".958" stop-color="#6201cd"/><stop offset=".968" stop-color="#5700aa"/><stop offset=".981" stop-color="#450070"/><stop offset=".990" stop-color="#370049"/><stop offset="1" stop-color="#240020"/></linearGradient>
<linearGradient id="h74" x2="0" y2="1"><stop offset="0" stop-color="#290028"/><stop offset=".357" stop-color="#290028"/><stop offset=".360" stop-color="#6301ce"/><stop offset=".442" stop-color="#6b01e4"/><stop offset=".529" stop-color="#7102f0"/><stop offset=".646" stop-color="#7703fa"/><stop offset=".769" stop-color="#7a03fd"/><stop offset=".916" stop-color="#7502f7"/><stop offset=".932" stop-color="#6e02ec"/><stop offset=".958" stop-color="#6201cb"/><stop offset=".968" stop-color="#5600a8"/><stop offset=".981" stop-color="#44006f"/><stop offset=".990" stop-color="#360048"/><stop offset="1" stop-color="#240020"/></linearGradient>
<linearGradient id="h75" x2="0" y2="1"><stop offset="0" stop-color="#270026"/><stop offset=".390" stop-color="#270026"/><stop offset=".393" stop-color="#6201cd"/><stop offset=".477" stop-color="#6a01e2"/><stop offset=".562" stop-color="#7002ef"/><stop offset=".669" stop-color="#7603f9"/><stop offset=".769" stop-color="#7903fc"/><stop offset=".916" stop-color="#7402f6"/><stop offset=".932" stop-color="#6e02ea"/><stop offset=".958" stop-color="#6101c9"/><stop offset=".968" stop-color="#5600a7"/><stop offset=".981" stop-color="#44006d"/><stop offset=".990" stop-color="#360047"/><stop offset="1" stop-color="#240020"/></linearGradient>
<linearGradient id="h76" x2="0" y2="1"><stop offset="0" stop-color="#260024"/><stop offset=".422" stop-color="#260024"/><stop offset=".425" stop-color="#6101cb"/><stop offset=".588" stop-color="#6f02ed"/><stop offset=".688" stop-color="#7502f7"/><stop offset=".773" stop-color="#7703fa"/><stop offset=".916" stop-color="#7302f4"/><stop offset=".932" stop-color="#6d02e8"/><stop offset=".958" stop-color="#6001c7"/><stop offset=".968" stop-color="#5500a5"/><stop offset=".987" stop-color="#3b0053"/><stop offset="1" stop-color="#24001f"/></linearGradient>
<linearGradient id="h77" x2="0" y2="1"><stop offset="0" stop-color="#250021"/><stop offset=".461" stop-color="#250021"/><stop offset=".464" stop-color="#6101c9"/><stop offset=".620" stop-color="#6e02ea"/><stop offset=".708" stop-color="#7302f5"/><stop offset=".779" stop-color="#7502f7"/><stop offset=".916" stop-color="#7202f2"/><stop offset=".932" stop-color="#6c01e6"/><stop offset=".958" stop-color="#6001c5"/><stop offset=".968" stop-color="#5500a2"/><stop offset=".987" stop-color="#3a0052"/><stop offset="1" stop-color="#24001f"/></linearGradient>
<linearGradient id="h78" x2="0" y2="1"><stop offset="0" stop-color="#24001f"/><stop offset=".506" stop-color="#24001f"/><stop offset=".510" stop-color="#6001c8"/><stop offset=".669" stop-color="#6e02ea"/><stop offset=".734" stop-color="#7202f2"/><stop offset=".792" stop-color="#7302f4"/><stop offset=".916" stop-color="#7002ef"/><stop offset=".932" stop-color="#6a01e3"/><stop offset=".958" stop-color="#5f01c2"/><stop offset=".968" stop-color="#5400a0"/><stop offset=".981" stop-color="#420069"/><stop offset=".987" stop-color="#3a0051"/><stop offset="1" stop-color="#23001f"/></linearGradient>
<linearGradient id="h79" x2="0" y2="1"><stop offset="0" stop-color="#22001d"/><stop offset=".558" stop-color="#22001d"/><stop offset=".562" stop-color="#6101c8"/><stop offset=".714" stop-color="#6d02e8"/><stop offset=".812" stop-color="#7002ef"/><stop offset=".916" stop-color="#6f02ec"/><stop offset=".935" stop-color="#6701db"/><stop offset=".958" stop-color="#5d01be"/><stop offset=".968" stop-color="#53009c"/><stop offset=".981" stop-color="#410066"/><stop offset=".987" stop-color="#39004f"/><stop offset="1" stop-color="#23001e"/></linearGradient>
<linearGradient id="h80" x2="0" y2="1"><stop offset="0" stop-color="#22001c"/><stop offset=".614" stop-color="#22001c"/><stop offset=".617" stop-color="#6101c9"/><stop offset=".744" stop-color="#6a01e3"/><stop offset=".831" stop-color="#6d02e8"/><stop offset=".916" stop-color="#6c01e7"/><stop offset=".942" stop-color="#6301ce"/><stop offset=".958" stop-color="#5c01b9"/><stop offset=".961" stop-color="#5900af"/><stop offset=".987" stop-color="#38004d"/><stop offset="1" stop-color="#23001e"/></linearGradient>
<linearGradient id="h81" x2="0" y2="1"><stop offset="0" stop-color="#21001b"/><stop offset=".682" stop-color="#21001b"/><stop offset=".685" stop-color="#6201cb"/><stop offset=".773" stop-color="#6701db"/><stop offset=".860" stop-color="#6901e0"/><stop offset=".916" stop-color="#6901df"/><stop offset=".932" stop-color="#6401d2"/><stop offset=".958" stop-color="#5900b2"/><stop offset=".964" stop-color="#53009d"/><stop offset=".987" stop-color="#37004a"/><stop offset="1" stop-color="#22001d"/></linearGradient>
<linearGradient id="h82" x2="0" y2="1"><stop offset="0" stop-color="#20001a"/><stop offset=".750" stop-color="#20001a"/><stop offset=".753" stop-color="#6201cd"/><stop offset=".821" stop-color="#6401d3"/><stop offset=".916" stop-color="#6501d5"/><stop offset=".932" stop-color="#6001c7"/><stop offset=".958" stop-color="#5600a8"/><stop offset=".987" stop-color="#360046"/><stop offset="1" stop-color="#21001b"/></linearGradient>
<linearGradient id="h83" x2="0" y2="1"><stop offset="0" stop-color="#200019"/><stop offset=".841" stop-color="#200019"/><stop offset=".844" stop-color="#6001c7"/><stop offset=".916" stop-color="#5f01c4"/><stop offset=".945" stop-color="#5700a9"/><stop offset=".958" stop-color="#52009a"/><stop offset=".987" stop-color="#330040"/><stop offset="1" stop-color="#200019"/></linearGradient>
<linearGradient id="h84" x2="0" y2="1"><stop offset="0" stop-color="#1f0018"/><stop offset=".968" stop-color="#1f0018"/><stop offset=".971" stop-color="#410064"/><stop offset=".990" stop-color="#2c0030"/><stop offset="1" stop-color="#1e0016"/></linearGradient>
<linearGradient id="h85" x2="0" y2="1"><stop offset="0" stop-color="#1e0017"/><stop offset="1" stop-color="#1e0017"/></linearGradient>
<linearGradient id="h86" x2="0" y2="1"><stop offset="0" stop-color="#1e0016"/><stop offset="1" stop-color="#1e0016"/></linearGradient>
<linearGradient id="h87" x2="0" y2="1"><stop offset="0" stop-color="#1d0015"/><stop offset="1" stop-color="#1d0015"/></linearGradient>
<linearGradient id="h88" x2="0" y2="1"><stop offset="0" stop-color="#1c0014"/><stop offset="1" stop-color="#1c0014"/></linearGradient>
<linearGradient id="h89" x2="0" y2="1"><stop offset="0" stop-color="#1b0013"/><stop offset="1" stop-color="#1b0013"/></linearGradient>
<linearGradient id="h90" x2="0" y2="1"><stop offset="0" stop-color="#1b0011"/><stop offset="1" stop-color="#1b0011"/></linearGradient>
<linearGradient id="h91" x2="0" y2="1"><stop offset="0" stop-color="#1a0010"/><stop offset="1" stop-color="#1a0010"/></linearGradient>
<linearGradient id="h92" x2="0" y2="1"><stop offset="0" stop-color="#19000f"/><stop offset="1" stop-color="#19000f"/></linearGradient>
<linearGradient id="h93" x2="0" y2="1"><stop offset="0" stop-color="#18000e"/><stop offset="1" stop-color="#18000e"/></linearGradient>
<linearGradient id="h94" x2="0" y2="1"><stop offset="0" stop-color="#17000d"/><stop offset="1" stop-color="#17000d"/></linearGradient>
<linearGradient id="h95" x2="0" y2="1"><stop offset="0" stop-color="#17000d"/><stop offset="1" stop-color="#17000d"/></linearGradient>
<linearGradient id="h96" x2="0" y2="1"><stop offset="0" stop-color="#17000d"/><stop offset="1" stop-color="#17000d"/></linearGradient>
<linearGradient id="h97" x2="0" y2="1"><stop offset="0" stop-color="#17000d"/><stop offset="1" stop-color="#17000d"/></linearGradient>
<linearGradient id="h98" x2="0" y2="1"><stop offset="0" stop-color="#17000d"/><stop offset="1" stop-color="#17000d"/></linearGradient>
<linearGradient id="h99" x2="0" y2="1"><stop offset="0" stop-color="#17000d"/><stop offset="1" stop-color="#17000d"/></linearGradient></defs>
<rect width="645" height="346" fill="#fff"/>
<path d="M149.90 48.80L150.24 48.86L150.66 48.94L151.16 49.04L151.71 49.14L152.32 49.26L152.96 49.38L153.63 49.51L154.32 49.63L155.01 49.76L155.69 49.88L156.36 49.99L157.00 50.10L157.63 50.20L158.26 50.29L158.90 50.39L159.55 50.48L160.21 50.57L160.86 50.66L161.52 50.75L162.18 50.84L162.84 50.93L163.50 51.02L164.15 51.11L164.80 51.20L165.44 51.29L166.08 51.39L166.71 51.48L167.34 51.58L167.97 51.68L168.61 51.78L169.24 51.87L169.88 51.96L170.52 52.05L171.17 52.14L171.83 52.22L172.50 52.30L173.18 52.38L173.85 52.45L174.53 52.53L175.22 52.61L175.91 52.69L176.61 52.76L177.31 52.82L178.03 52.88L178.75 52.93L179.49 52.96L180.24 52.99L181.00 53.00L181.78 53.00L182.57 52.99L183.37 52.97L184.18 52.94L185.00 52.91L185.84 52.86L186.68 52.81L187.53 52.74L188.39 52.67L189.25 52.59L190.12 52.50L191.00 52.40L191.89 52.29L192.81 52.16L193.75 52.03L194.70 51.88L195.66 51.73L196.62 51.56L197.58 51.39L198.52 51.22L199.45 51.04L200.36 50.86L201.25 50.68L202.10 50.50L202.91 50.32L203.68 50.14L204.42 49.96L205.14 49.78L205.84 49.60L206.53 49.41L207.23 49.21L207.93 49.01L208.65 48.80L209.40 48.58L210.18 48.34L211.00 48.10L211.88 47.84L212.82 47.54L213.81 47.23L214.83 46.91L215.87 46.57L216.91 46.24L217.93 45.90L218.94 45.58L219.90 45.27L220.81 44.99L221.65 44.73L222.40 44.50L223.07 44.30L223.67 44.13L224.21 43.98L224.70 43.84L225.14 43.73L225.56 43.62L225.96 43.52L226.35 43.43L226.74 43.35L227.13 43.27L227.55 43.19L228.00 43.10L228.47 43.01L228.95 42.93L229.43 42.85L229.91 42.78L230.39 42.71L230.88 42.64L231.35 42.59L231.82 42.53L232.28 42.49L232.74 42.45L233.18 42.42L233.60 42.40L234.01 42.39L234.41 42.38L234.81 42.38L235.19 42.39L235.56 42.41L235.93 42.43L236.29 42.46L236.64 42.50L236.99 42.54L237.33 42.59L237.67 42.64L238.00 42.70L238.32 42.76L238.61 42.81L238.88 42.87L239.15 42.93L239.41 42.99L239.66 43.06L239.92 43.15L240.20 43.25L240.48 43.38L240.79 43.52L241.13 43.70L241.50 43.90L241.91 44.13L242.34 44.38L242.81 44.66L243.30 44.95L243.80 45.27L244.31 45.60L244.83 45.95L245.35 46.33L245.86 46.72L246.36 47.13L246.84 47.55L247.30 48.00L247.74 48.47L248.17 48.96L248.59 49.47L249.00 50.00L249.40 50.55L249.80 51.11L250.20 51.70L250.59 52.29L250.99 52.90L251.39 53.53L251.79 54.16L252.20 54.80L252.62 55.46L253.03 56.14L253.46 56.84L253.88 57.56L254.31 58.29L254.73 59.03L255.15 59.78L255.57 60.53L255.99 61.28L256.40 62.03L256.80 62.77L257.20 63.50L257.59 64.22L257.97 64.92L258.34 65.61L258.71 66.30L259.08 66.98L259.44 67.68L259.80 68.38L260.16 69.09L260.51 69.83L260.87 70.59L261.24 71.38L261.60 72.20L261.97 73.05L262.33 73.93L262.70 74.83L263.07 75.75L263.43 76.69L263.80 77.64L264.17 78.62L264.53 79.61L264.90 80.61L265.27 81.63L265.63 82.66L266.00 83.70L266.37 84.76L266.74 85.84L267.12 86.94L267.50 88.06L267.87 89.19L268.25 90.33L268.62 91.48L268.99 92.64L269.36 93.81L269.71 94.97L270.06 96.14L270.40 97.30L270.73 98.46L271.05 99.61L271.35 100.77L271.66 101.93L271.95 103.09L272.24 104.26L272.53 105.43L272.82 106.62L273.11 107.82L273.40 109.03L273.70 110.26L274.00 111.50L274.31 112.76L274.62 114.04L274.94 115.32L275.27 116.62L275.59 117.93L275.91 119.26L276.23 120.59L276.54 121.93L276.85 123.29L277.15 124.65L277.43 126.02L277.70 127.40L277.96 128.80L278.21 130.23L278.45 131.69L278.68 133.16L278.90 134.64L279.12 136.12L279.33 137.60L279.53 139.07L279.73 140.52L279.93 141.95L280.11 143.34L280.30 144.70L280.48 146.07L280.67 147.48L280.85 148.92L281.03 150.37L281.20 151.79L281.36 153.18L281.52 154.51L281.66 155.76L281.80 156.90L281.91 157.92L282.02 158.79L282.10 159.50L197.20 159.50L197.13 158.90L197.05 158.16L196.97 157.32L196.88 156.37L196.77 155.34L196.66 154.22L196.52 153.05L196.37 151.81L196.19 150.54L195.99 149.24L195.76 147.92L195.50 146.60L195.21 145.24L194.90 143.82L194.55 142.35L194.19 140.82L193.80 139.26L193.39 137.66L192.97 136.03L192.52 134.39L192.06 132.74L191.59 131.08L191.10 129.43L190.60 127.80L190.09 126.17L189.56 124.52L189.02 122.85L188.46 121.17L187.89 119.49L187.30 117.79L186.69 116.09L186.07 114.39L185.43 112.69L184.77 110.99L184.09 109.29L183.40 107.60L182.68 105.90L181.93 104.19L181.15 102.46L180.36 100.73L179.54 99.00L178.71 97.27L177.88 95.55L177.03 93.85L176.19 92.17L175.35 90.51L174.52 88.89L173.70 87.30L172.88 85.73L172.04 84.16L171.20 82.60L170.34 81.06L169.49 79.53L168.64 78.04L167.80 76.57L166.98 75.15L166.17 73.78L165.38 72.46L164.63 71.19L163.90 70.00L163.21 68.89L162.54 67.86L161.91 66.90L161.29 66.00L160.70 65.15L160.11 64.34L159.54 63.54L158.97 62.76L158.41 61.98L157.85 61.18L157.28 60.36L156.70 59.50L156.10 58.58L155.46 57.60L154.81 56.59L154.15 55.55L153.49 54.51L152.85 53.49L152.23 52.51L151.65 51.58L151.11 50.73L150.64 49.97L150.23 49.32L149.90 48.80Z" fill="#999"/>
<path d="M149.90 48.80L150.23 49.32L150.64 49.97L151.11 50.73L151.65 51.58L152.23 52.51L152.85 53.49L153.49 54.51L154.15 55.55L154.81 56.59L155.46 57.60L156.10 58.58L156.70 59.50L157.28 60.36L157.85 61.18L158.41 61.98L158.97 62.76L159.54 63.54L160.11 64.34L160.70 65.15L161.29 66.00L161.91 66.90L162.54 67.86L163.21 68.89L163.90 70.00L164.63 71.19L165.38 72.46L166.17 73.78L166.98 75.15L167.80 76.57L168.64 78.04L169.49 79.53L170.34 81.06L171.20 82.60L172.04 84.16L172.88 85.73L173.70 87.30L174.52 88.89L175.35 90.51L176.19 92.17L177.03 93.85L177.88 95.55L178.71 97.27L179.54 99.00L180.36 100.73L181.15 102.46L181.93 104.19L182.68 105.90L183.40 107.60L184.09 109.29L184.77 110.99L185.43 112.69L186.07 114.39L186.69 116.09L187.30 117.79L187.89 119.49L188.46 121.17L189.02 122.85L189.56 124.52L190.09 126.17L190.60 127.80L191.10 129.43L191.59 131.08L192.06 132.74L192.52 134.39L192.97 136.03L193.39 137.66L193.80 139.26L194.19 140.82L194.55 142.35L194.90 143.82L195.21 145.24L195.50 146.60L195.76 147.92L195.99 149.24L196.19 150.54L196.37 151.81L196.52 153.05L196.66 154.22L196.77 155.34L196.88 156.37L196.97 157.32L197.05 158.16L197.13 158.90L197.20 159.50" fill="none" stroke="#f00" stroke-width="3" stroke-linecap="butt"/>
<path d="M149.90 48.80L150.24 48.86L150.66 48.94L151.16 49.04L151.71 49.14L152.32 49.26L152.96 49.38L153.63 49.51L154.32 49.63L155.01 49.76L155.69 49.88L156.36 49.99L157.00 50.10L157.63 50.20L158.26 50.29L158.90 50.39L159.55 50.48L160.21 50.57L160.86 50.66L161.52 50.75L162.18 50.84L162.84 50.93L163.50 51.02L164.15 51.11L164.80 51.20L165.44 51.29L166.08 51.39L166.71 51.48L167.34 51.58L167.97 51.68L168.61 51.78L169.24 51.87L169.88 51.96L170.52 52.05L171.17 52.14L171.83 52.22L172.50 52.30L173.18 52.38L173.85 52.45L174.53 52.53L175.22 52.61L175.91 52.69L176.61 52.76L177.31 52.82L178.03 52.88L178.75 52.93L179.49 52.96L180.24 52.99L181.00 53.00L181.78 53.00L182.57 52.99L183.37 52.97L184.18 52.94L185.00 52.91L185.84 52.86L186.68 52.81L187.53 52.74L188.39 52.67L189.25 52.59L190.12 52.50L191.00 52.40L191.89 52.29L192.81 52.16L193.75 52.03L194.70 51.88L195.66 51.73L196.62 51.56L197.58 51.39L198.52 51.22L199.45 51.04L200.36 50.86L201.25 50.68L202.10 50.50L202.91 50.32L203.68 50.14L204.42 49.96L205.14 49.78L205.84 49.60L206.53 49.41L207.23 49.21L207.93 49.01L208.65 48.80L209.40 48.58L210.18 48.34L211.00 48.10L211.88 47.84L212.82 47.54L213.81 47.23L214.83 46.91L215.87 46.57L216.91 46.24L217.93 45.90L218.94 45.58L219.90 45.27L220.81 44.99L221.65 44.73L222.40 44.50L223.07 44.30L223.67 44.13L224.21 43.98L224.70 43.84L225.14 43.73L225.56 43.62L225.96 43.52L226.35 43.43L226.74 43.35L227.13 43.27L227.55 43.19L228.00 43.10L228.47 43.01L228.95 42.93L229.43 42.85L229.91 42.78L230.39 42.71L230.88 42.64L231.35 42.59L231.82 42.53L232.28 42.49L232.74 42.45L233.18 42.42L233.60 42.40L234.01 42.39L234.41 42.38L234.81 42.38L235.19 42.39L235.56 42.41L235.93 42.43L236.29 42.46L236.64 42.50L236.99 42.54L237.33 42.59L237.67 42.64L238.00 42.70L238.32 42.76L238.61 42.81L238.88 42.87L239.15 42.93L239.41 42.99L239.66 43.06L239.92 43.15L240.20 43.25L240.48 43.38L240.79 43.52L241.13 43.70L241.50 43.90L241.91 44.13L242.34 44.38L242.81 44.66L243.30 44.95L243.80 45.27L244.31 45.60L244.83 45.95L245.35 46.33L245.86 46.72L246.36 47.13L246.84 47.55L247.30 48.00L247.74 48.47L248.17 48.96L248.59 49.47L249.00 50.00L249.40 50.55L249.80 51.11L250.20 51.70L250.59 52.29L250.99 52.90L251.39 53.53L251.79 54.16L252.20 54.80L252.62 55.46L253.03 56.14L253.46 56.84L253.88 57.56L254.31 58.29L254.73 59.03L255.15 59.78L255.57 60.53L255.99 61.28L256.40 62.03L256.80 62.77L257.20 63.50L257.59 64.22L257.97 64.92L258.34 65.61L258.71 66.30L259.08 66.98L259.44 67.68L259.80 68.38L260.16 69.09L260.51 69.83L260.87 70.59L261.24 71.38L261.60 72.20L261.97 73.05L262.33 73.93L262.70 74.83L263.07 75.75L263.43 76.69L263.80 77.64L264.17 78.62L264.53 79.61L264.90 80.61L265.27 81.63L265.63 82.66L266.00 83.70L266.37 84.76L266.74 85.84L267.12 86.94L267.50 88.06L267.87 89.19L268.25 90.33L268.62 91.48L268.99 92.64L269.36 93.81L269.71 94.97L270.06 96.14L270.40 97.30L270.73 98.46L271.05 99.61L271.35 100.77L271.66 101.93L271.95 103.09L272.24 104.26L272.53 105.43L272.82 106.62L273.11 107.82L273.40 109.03L273.70 110.26L274.00 111.50L274.31 112.76L274.62 114.04L274.94 115.32L275.27 116.62L275.59 117.93L275.91 119.26L276.23 120.59L276.54 121.93L276.85 123.29L277.15 124.65L277.43 126.02L277.70 127.40L277.96 128.80L278.21 130.23L278.45 131.69L278.68 133.16L278.90 134.64L279.12 136.12L279.33 137.60L279.53 139.07L279.73 140.52L279.93 141.95L280.11 143.34L280.30 144.70L280.48 146.07L280.67 147.48L280.85 148.92L281.03 150.37L281.20 151.79L281.36 153.18L281.52 154.51L281.66 155.76L281.80 156.90L281.91 157.92L282.02 158.79L282.10 159.50" fill="none" stroke="#000" stroke-width="3" stroke-linejoin="round"/>
<rect x="65.2" y="6.0" width="256.4" height="153.6" fill="none" stroke="#5c5c5c" stroke-width="1"/>
<path d="M116.48 159.6v-3.7M116.48 6.0v3.7M167.76 159.6v-3.7M167.76 6.0v3.7M219.04 159.6v-3.7M219.04 6.0v3.7M270.32 159.6v-3.7M270.32 6.0v3.7M90.84 159.6v-1.9M90.84 6.0v1.9M142.12 159.6v-1.9M142.12 6.0v1.9M193.40 159.6v-1.9M193.40 6.0v1.9M244.68 159.6v-1.9M244.68 6.0v1.9M295.96 159.6v-1.9M295.96 6.0v1.9M65.2 108.40h3.7M321.6 108.40h-3.7M65.2 57.20h3.7M321.6 57.20h-3.7M65.2 134.00h1.9M321.6 134.00h-1.9M65.2 82.80h1.9M321.6 82.80h-1.9M65.2 31.60h1.9M321.6 31.60h-1.9" stroke="#555" stroke-width="0.9" fill="none"/>
<path d="M89.90 301.10L90.20 300.30L90.58 299.32L91.02 298.17L91.51 296.88L92.05 295.47L92.62 293.98L93.21 292.41L93.82 290.81L94.44 289.19L95.04 287.59L95.63 286.01L96.20 284.50L96.75 283.00L97.31 281.47L97.88 279.90L98.44 278.31L99.02 276.70L99.59 275.09L100.17 273.47L100.76 271.87L101.34 270.28L101.93 268.72L102.51 267.19L103.10 265.70L103.69 264.24L104.29 262.80L104.89 261.37L105.50 259.96L106.10 258.56L106.71 257.18L107.32 255.82L107.93 254.48L108.53 253.15L109.13 251.85L109.72 250.56L110.30 249.30L110.88 248.06L111.45 246.84L112.02 245.65L112.59 244.48L113.15 243.33L113.71 242.19L114.26 241.07L114.81 239.96L115.36 238.86L115.91 237.77L116.46 236.68L117.00 235.60L117.54 234.52L118.07 233.46L118.59 232.40L119.11 231.36L119.63 230.33L120.15 229.30L120.67 228.28L121.19 227.27L121.71 226.27L122.23 225.28L122.76 224.29L123.30 223.30L123.84 222.32L124.38 221.34L124.93 220.37L125.47 219.41L126.02 218.45L126.57 217.51L127.13 216.57L127.69 215.63L128.26 214.71L128.83 213.80L129.41 212.89L130.00 212.00L130.58 211.13L131.15 210.30L131.70 209.50L132.26 208.71L132.82 207.93L133.39 207.15L133.98 206.36L134.60 205.56L135.25 204.73L135.95 203.87L136.70 202.96L137.50 202.00L138.35 200.98L139.24 199.90L140.17 198.78L141.13 197.62L142.13 196.43L143.16 195.23L144.22 194.03L145.31 192.83L146.44 191.64L147.60 190.49L148.78 189.37L150.00 188.30L151.26 187.26L152.57 186.23L153.93 185.21L155.33 184.20L156.76 183.21L158.22 182.24L159.69 181.30L161.17 180.37L162.64 179.48L164.11 178.62L165.57 177.79L167.00 177.00L168.43 176.25L169.88 175.53L171.34 174.86L172.81 174.21L174.29 173.59L175.75 172.99L177.20 172.42L178.63 171.87L180.03 171.34L181.40 170.81L182.72 170.30L184.00 169.80L185.26 169.30L186.55 168.81L187.84 168.32L189.11 167.84L190.36 167.39L191.56 166.95L192.71 166.54L193.78 166.16L194.76 165.81L195.63 165.49L196.38 165.22L197.00 165.00L282.20 165.10L281.61 165.46L280.93 165.88L280.14 166.35L279.26 166.89L278.30 167.48L277.24 168.12L276.11 168.81L274.90 169.54L273.62 170.32L272.28 171.15L270.87 172.00L269.40 172.90L267.88 173.83L266.30 174.79L264.66 175.79L262.95 176.82L261.17 177.90L259.32 179.03L257.38 180.21L255.36 181.44L253.24 182.74L251.03 184.09L248.72 185.51L246.30 187.00L243.70 188.60L240.87 190.33L237.86 192.18L234.71 194.10L231.47 196.08L228.18 198.10L224.89 200.12L221.65 202.13L218.49 204.10L215.47 206.00L212.62 207.81L210.00 209.50L207.60 211.07L205.36 212.54L203.27 213.93L201.30 215.27L199.41 216.56L197.58 217.82L195.79 219.09L194.00 220.37L192.20 221.68L190.35 223.04L188.42 224.48L186.40 226.00L184.28 227.62L182.11 229.32L179.90 231.08L177.65 232.89L175.39 234.73L173.11 236.59L170.84 238.46L168.59 240.31L166.37 242.14L164.19 243.92L162.06 245.65L160.00 247.30L158.01 248.88L156.07 250.41L154.18 251.90L152.32 253.34L150.50 254.77L148.69 256.17L146.90 257.56L145.11 258.96L143.31 260.36L141.50 261.78L139.67 263.22L137.80 264.70L135.91 266.21L134.02 267.74L132.13 269.28L130.23 270.84L128.32 272.41L126.41 273.97L124.49 275.55L122.56 277.11L120.62 278.68L118.66 280.23L116.69 281.77L114.70 283.30L112.61 284.87L110.38 286.52L108.04 288.22L105.64 289.95L103.23 291.67L100.86 293.36L98.56 294.99L96.39 296.51L94.40 297.92L92.62 299.17L91.10 300.24L89.90 301.10Z" fill="#999"/>
<path d="M89.90 301.10L91.10 300.24L92.62 299.17L94.40 297.92L96.39 296.51L98.56 294.99L100.86 293.36L103.23 291.67L105.64 289.95L108.04 288.22L110.38 286.52L112.61 284.87L114.70 283.30L116.69 281.77L118.66 280.23L120.62 278.68L122.56 277.11L124.49 275.55L126.41 273.97L128.32 272.41L130.23 270.84L132.13 269.28L134.02 267.74L135.91 266.21L137.80 264.70L139.67 263.22L141.50 261.78L143.31 260.36L145.11 258.96L146.90 257.56L148.69 256.17L150.50 254.77L152.32 253.34L154.18 251.90L156.07 250.41L158.01 248.88L160.00 247.30L162.06 245.65L164.19 243.92L166.37 242.14L168.59 240.31L170.84 238.46L173.11 236.59L175.39 234.73L177.65 232.89L179.90 231.08L182.11 229.32L184.28 227.62L186.40 226.00L188.42 224.48L190.35 223.04L192.20 221.68L194.00 220.37L195.79 219.09L197.58 217.82L199.41 216.56L201.30 215.27L203.27 213.93L205.36 212.54L207.60 211.07L210.00 209.50L212.62 207.81L215.47 206.00L218.49 204.10L221.65 202.13L224.89 200.12L228.18 198.10L231.47 196.08L234.71 194.10L237.86 192.18L240.87 190.33L243.70 188.60L246.30 187.00L248.72 185.51L251.03 184.09L253.24 182.74L255.36 181.44L257.38 180.21L259.32 179.03L261.17 177.90L262.95 176.82L264.66 175.79L266.30 174.79L267.88 173.83L269.40 172.90L270.87 172.00L272.28 171.15L273.62 170.32L274.90 169.54L276.11 168.81L277.24 168.12L278.30 167.48L279.26 166.89L280.14 166.35L280.93 165.88L281.61 165.46L282.20 165.10" fill="none" stroke="#000" stroke-width="3"/>
<path d="M89.90 301.10L90.20 300.30L90.58 299.32L91.02 298.17L91.51 296.88L92.05 295.47L92.62 293.98L93.21 292.41L93.82 290.81L94.44 289.19L95.04 287.59L95.63 286.01L96.20 284.50L96.75 283.00L97.31 281.47L97.88 279.90L98.44 278.31L99.02 276.70L99.59 275.09L100.17 273.47L100.76 271.87L101.34 270.28L101.93 268.72L102.51 267.19L103.10 265.70L103.69 264.24L104.29 262.80L104.89 261.37L105.50 259.96L106.10 258.56L106.71 257.18L107.32 255.82L107.93 254.48L108.53 253.15L109.13 251.85L109.72 250.56L110.30 249.30L110.88 248.06L111.45 246.84L112.02 245.65L112.59 244.48L113.15 243.33L113.71 242.19L114.26 241.07L114.81 239.96L115.36 238.86L115.91 237.77L116.46 236.68L117.00 235.60L117.54 234.52L118.07 233.46L118.59 232.40L119.11 231.36L119.63 230.33L120.15 229.30L120.67 228.28L121.19 227.27L121.71 226.27L122.23 225.28L122.76 224.29L123.30 223.30L123.84 222.32L124.38 221.34L124.93 220.37L125.47 219.41L126.02 218.45L126.57 217.51L127.13 216.57L127.69 215.63L128.26 214.71L128.83 213.80L129.41 212.89L130.00 212.00L130.58 211.13L131.15 210.30L131.70 209.50L132.26 208.71L132.82 207.93L133.39 207.15L133.98 206.36L134.60 205.56L135.25 204.73L135.95 203.87L136.70 202.96L137.50 202.00L138.35 200.98L139.24 199.90L140.17 198.78L141.13 197.62L142.13 196.43L143.16 195.23L144.22 194.03L145.31 192.83L146.44 191.64L147.60 190.49L148.78 189.37L150.00 188.30L151.26 187.26L152.57 186.23L153.93 185.21L155.33 184.20L156.76 183.21L158.22 182.24L159.69 181.30L161.17 180.37L162.64 179.48L164.11 178.62L165.57 177.79L167.00 177.00L168.43 176.25L169.88 175.53L171.34 174.86L172.81 174.21L174.29 173.59L175.75 172.99L177.20 172.42L178.63 171.87L180.03 171.34L181.40 170.81L182.72 170.30L184.00 169.80L185.26 169.30L186.55 168.81L187.84 168.32L189.11 167.84L190.36 167.39L191.56 166.95L192.71 166.54L193.78 166.16L194.76 165.81L195.63 165.49L196.38 165.22L197.00 165.00" fill="none" stroke="#f00" stroke-width="3"/>
<rect x="65.2" y="165.2" width="256.4" height="146.8" fill="none" stroke="#5c5c5c" stroke-width="1"/>
<path d="M116.48 312.0v-3.7M116.48 165.2v3.7M167.76 312.0v-3.7M167.76 165.2v3.7M219.04 312.0v-3.7M219.04 165.2v3.7M270.32 312.0v-3.7M270.32 165.2v3.7M90.84 312.0v-1.9M90.84 165.2v1.9M142.12 312.0v-1.9M142.12 165.2v1.9M193.40 312.0v-1.9M193.40 165.2v1.9M244.68 312.0v-1.9M244.68 165.2v1.9M295.96 312.0v-1.9M295.96 165.2v1.9M65.2 192.42h3.7M321.6 192.42h-3.7M65.2 246.88h3.7M321.6 246.88h-3.7M65.2 301.32h3.7M321.6 301.32h-3.7M65.2 219.65h1.9M321.6 219.65h-1.9M65.2 274.10h1.9M321.6 274.10h-1.9" stroke="#555" stroke-width="0.9" fill="none"/>
<g id="hm" shape-rendering="crispEdges"><rect x="325.30" y="6.0" width="2.87" height="154.2" fill="url(#h0)"/>
<rect x="327.88" y="6.0" width="2.87" height="154.2" fill="url(#h1)"/>
<rect x="330.45" y="6.0" width="2.87" height="154.2" fill="url(#h2)"/>
<rect x="333.03" y="6.0" width="2.87" height="154.2" fill="url(#h3)"/>
<rect x="335.60" y="6.0" width="2.87" height="154.2" fill="url(#h4)"/>
<rect x="338.18" y="6.0" width="2.87" height="154.2" fill="url(#h5)"/>
<rect x="340.75" y="6.0" width="2.87" height="154.2" fill="url(#h6)"/>
<rect x="343.32" y="6.0" width="2.87" height="154.2" fill="url(#h7)"/>
<rect x="345.90" y="6.0" width="2.87" height="154.2" fill="url(#h8)"/>
<rect x="348.48" y="6.0" width="2.87" height="154.2" fill="url(#h9)"/>
<rect x="351.05" y="6.0" width="2.87" height="154.2" fill="url(#h10)"/>
<rect x="353.62" y="6.0" width="2.87" height="154.2" fill="url(#h11)"/>
<rect x="356.20" y="6.0" width="2.87" height="154.2" fill="url(#h12)"/>
<rect x="358.77" y="6.0" width="2.87" height="154.2" fill="url(#h13)"/>
<rect x="361.35" y="6.0" width="2.87" height="154.2" fill="url(#h14)"/>
<rect x="363.93" y="6.0" width="2.87" height="154.2" fill="url(#h15)"/>
<rect x="366.50" y="6.0" width="2.87" height="154.2" fill="url(#h16)"/>
<rect x="369.07" y="6.0" width="2.87" height="154.2" fill="url(#h17)"/>
<rect x="371.65" y="6.0" width="2.87" height="154.2" fill="url(#h18)"/>
<rect x="374.23" y="6.0" width="2.87" height="154.2" fill="url(#h19)"/>
<rect x="376.80" y="6.0" width="2.87" height="154.2" fill="url(#h20)"/>
<rect x="379.38" y="6.0" width="2.87" height="154.2" fill="url(#h21)"/>
<rect x="381.95" y="6.0" width="2.87" height="154.2" fill="url(#h22)"/>
<rect x="384.52" y="6.0" width="2.87" height="154.2" fill="url(#h23)"/>
<rect x="387.10" y="6.0" width="2.87" height="154.2" fill="url(#h24)"/>
<rect x="389.68" y="6.0" width="2.87" height="154.2" fill="url(#h25)"/>
<rect x="392.25" y="6.0" width="2.87" height="154.2" fill="url(#h26)"/>
<rect x="394.82" y="6.0" width="2.87" height="154.2" fill="url(#h27)"/>
<rect x="397.40" y="6.0" width="2.87" height="154.2" fill="url(#h28)"/>
<rect x="399.98" y="6.0" width="2.87" height="154.2" fill="url(#h29)"/>
<rect x="402.55" y="6.0" width="2.87" height="154.2" fill="url(#h30)"/>
<rect x="405.12" y="6.0" width="2.87" height="154.2" fill="url(#h31)"/>
<rect x="407.70" y="6.0" width="2.87" height="154.2" fill="url(#h32)"/>
<rect x="410.27" y="6.0" width="2.87" height="154.2" fill="url(#h33)"/>
<rect x="412.85" y="6.0" width="2.87" height="154.2" fill="url(#h34)"/>
<rect x="415.42" y="6.0" width="2.87" height="154.2" fill="url(#h35)"/>
<rect x="418.00" y="6.0" width="2.87" height="154.2" fill="url(#h36)"/>
<rect x="420.57" y="6.0" width="2.87" height="154.2" fill="url(#h37)"/>
<rect x="423.15" y="6.0" width="2.87" height="154.2" fill="url(#h38)"/>
<rect x="425.72" y="6.0" width="2.87" height="154.2" fill="url(#h39)"/>
<rect x="428.30" y="6.0" width="2.87" height="154.2" fill="url(#h40)"/>
<rect x="430.88" y="6.0" width="2.87" height="154.2" fill="url(#h41)"/>
<rect x="433.45" y="6.0" width="2.87" height="154.2" fill="url(#h42)"/>
<rect x="436.02" y="6.0" width="2.87" height="154.2" fill="url(#h43)"/>
<rect x="438.60" y="6.0" width="2.87" height="154.2" fill="url(#h44)"/>
<rect x="441.17" y="6.0" width="2.87" height="154.2" fill="url(#h45)"/>
<rect x="443.75" y="6.0" width="2.87" height="154.2" fill="url(#h46)"/>
<rect x="446.32" y="6.0" width="2.87" height="154.2" fill="url(#h47)"/>
<rect x="448.90" y="6.0" width="2.87" height="154.2" fill="url(#h48)"/>
<rect x="451.47" y="6.0" width="2.87" height="154.2" fill="url(#h49)"/>
<rect x="454.05" y="6.0" width="2.87" height="154.2" fill="url(#h50)"/>
<rect x="456.62" y="6.0" width="2.87" height="154.2" fill="url(#h51)"/>
<rect x="459.20" y="6.0" width="2.87" height="154.2" fill="url(#h52)"/>
<rect x="461.77" y="6.0" width="2.87" height="154.2" fill="url(#h53)"/>
<rect x="464.35" y="6.0" width="2.87" height="154.2" fill="url(#h54)"/>
<rect x="466.92" y="6.0" width="2.87" height="154.2" fill="url(#h55)"/>
<rect x="469.50" y="6.0" width="2.87" height="154.2" fill="url(#h56)"/>
<rect x="472.07" y="6.0" width="2.87" height="154.2" fill="url(#h57)"/>
<rect x="474.65" y="6.0" width="2.87" height="154.2" fill="url(#h58)"/>
<rect x="477.22" y="6.0" width="2.87" height="154.2" fill="url(#h59)"/>
<rect x="479.80" y="6.0" width="2.87" height="154.2" fill="url(#h60)"/>
<rect x="482.38" y="6.0" width="2.87" height="154.2" fill="url(#h61)"/>
<rect x="484.95" y="6.0" width="2.87" height="154.2" fill="url(#h62)"/>
<rect x="487.52" y="6.0" width="2.87" height="154.2" fill="url(#h63)"/>
<rect x="490.10" y="6.0" width="2.87" height="154.2" fill="url(#h64)"/>
<rect x="492.67" y="6.0" width="2.87" height="154.2" fill="url(#h65)"/>
<rect x="495.25" y="6.0" width="2.87" height="154.2" fill="url(#h66)"/>
<rect x="497.82" y="6.0" width="2.87" height="154.2" fill="url(#h67)"/>
<rect x="500.40" y="6.0" width="2.87" height="154.2" fill="url(#h68)"/>
<rect x="502.97" y="6.0" width="2.87" height="154.2" fill="url(#h69)"/>
<rect x="505.55" y="6.0" width="2.87" height="154.2" fill="url(#h70)"/>
<rect x="508.12" y="6.0" width="2.87" height="154.2" fill="url(#h71)"/>
<rect x="510.70" y="6.0" width="2.87" height="154.2" fill="url(#h72)"/>
<rect x="513.27" y="6.0" width="2.87" height="154.2" fill="url(#h73)"/>
<rect x="515.85" y="6.0" width="2.87" height="154.2" fill="url(#h74)"/>
<rect x="518.42" y="6.0" width="2.87" height="154.2" fill="url(#h75)"/>
<rect x="521.00" y="6.0" width="2.87" height="154.2" fill="url(#h76)"/>
<rect x="523.57" y="6.0" width="2.87" height="154.2" fill="url(#h77)"/>
<rect x="526.15" y="6.0" width="2.87" height="154.2" fill="url(#h78)"/>
<rect x="528.72" y="6.0" width="2.87" height="154.2" fill="url(#h79)"/>
<rect x="531.30" y="6.0" width="2.87" height="154.2" fill="url(#h80)"/>
<rect x="533.88" y="6.0" width="2.87" height="154.2" fill="url(#h81)"/>
<rect x="536.45" y="6.0" width="2.87" height="154.2" fill="url(#h82)"/>
<rect x="539.02" y="6.0" width="2.87" height="154.2" fill="url(#h83)"/>
<rect x="541.60" y="6.0" width="2.87" height="154.2" fill="url(#h84)"/>
<rect x="544.17" y="6.0" width="2.87" height="154.2" fill="url(#h85)"/>
<rect x="546.75" y="6.0" width="2.87" height="154.2" fill="url(#h86)"/>
<rect x="549.32" y="6.0" width="2.87" height="154.2" fill="url(#h87)"/>
<rect x="551.90" y="6.0" width="2.87" height="154.2" fill="url(#h88)"/>
<rect x="554.47" y="6.0" width="2.87" height="154.2" fill="url(#h89)"/>
<rect x="557.05" y="6.0" width="2.87" height="154.2" fill="url(#h90)"/>
<rect x="559.62" y="6.0" width="2.87" height="154.2" fill="url(#h91)"/>
<rect x="562.20" y="6.0" width="2.87" height="154.2" fill="url(#h92)"/>
<rect x="564.77" y="6.0" width="2.87" height="154.2" fill="url(#h93)"/>
<rect x="567.35" y="6.0" width="2.87" height="154.2" fill="url(#h94)"/>
<rect x="569.92" y="6.0" width="2.87" height="154.2" fill="url(#h95)"/>
<rect x="572.50" y="6.0" width="2.87" height="154.2" fill="url(#h96)"/>
<rect x="575.07" y="6.0" width="2.87" height="154.2" fill="url(#h97)"/>
<rect x="577.65" y="6.0" width="2.87" height="154.2" fill="url(#h98)"/>
<rect x="580.22" y="6.0" width="2.87" height="154.2" fill="url(#h99)"/></g>
<rect x="325.3" y="6.0" width="257.5" height="154.2" fill="none" stroke="#222" stroke-width="0.8"/>
<path d="M377.05 160.2v-3.7M377.05 6.0v3.7M428.50 160.2v-3.7M428.50 6.0v3.7M479.95 160.2v-3.7M479.95 6.0v3.7M531.40 160.2v-3.7M531.40 6.0v3.7M325.3 108.80h3.7M582.8 108.80h-3.7M325.3 57.40h3.7M582.8 57.40h-3.7M325.3 134.50h1.9M582.8 134.50h-1.9M325.3 83.10h1.9M582.8 83.10h-1.9M325.3 31.70h1.9M582.8 31.70h-1.9" stroke="#000" stroke-width="0.9" fill="none"/>
<path d="M411.20 49.30L411.54 49.36L411.96 49.44L412.46 49.54L413.01 49.64L413.62 49.76L414.26 49.88L414.93 50.01L415.62 50.13L416.31 50.26L416.99 50.38L417.66 50.49L418.30 50.60L418.93 50.70L419.56 50.79L420.20 50.89L420.85 50.98L421.51 51.07L422.16 51.16L422.82 51.25L423.48 51.34L424.14 51.43L424.80 51.52L425.45 51.61L426.10 51.70L426.74 51.79L427.38 51.89L428.01 51.98L428.64 52.08L429.27 52.18L429.91 52.28L430.54 52.37L431.18 52.46L431.82 52.55L432.47 52.64L433.13 52.72L433.80 52.80L434.48 52.88L435.15 52.95L435.83 53.03L436.52 53.11L437.21 53.19L437.91 53.26L438.61 53.32L439.33 53.38L440.05 53.43L440.79 53.46L441.54 53.49L442.30 53.50L443.08 53.50L443.87 53.49L444.67 53.47L445.48 53.44L446.30 53.41L447.14 53.36L447.98 53.31L448.83 53.24L449.69 53.17L450.55 53.09L451.42 53.00L452.30 52.90L453.19 52.79L454.11 52.66L455.05 52.53L456.00 52.38L456.96 52.23L457.92 52.06L458.88 51.89L459.82 51.72L460.75 51.54L461.66 51.36L462.55 51.18L463.40 51.00L464.21 50.82L464.98 50.64L465.72 50.46L466.44 50.28L467.14 50.10L467.83 49.91L468.53 49.71L469.23 49.51L469.95 49.30L470.70 49.08L471.48 48.84L472.30 48.60L473.18 48.34L474.12 48.04L475.11 47.73L476.13 47.41L477.17 47.07L478.21 46.74L479.23 46.40L480.24 46.08L481.20 45.77L482.11 45.49L482.95 45.23L483.70 45.00L484.37 44.80L484.97 44.63L485.51 44.48L486.00 44.34L486.44 44.23L486.86 44.12L487.26 44.02L487.65 43.93L488.04 43.85L488.43 43.77L488.85 43.69L489.30 43.60L489.77 43.51L490.25 43.43L490.73 43.35L491.21 43.28L491.69 43.21L492.18 43.14L492.65 43.09L493.12 43.03L493.58 42.99L494.04 42.95L494.48 42.92L494.90 42.90L495.31 42.89L495.71 42.88L496.11 42.88L496.49 42.89L496.86 42.91L497.23 42.93L497.59 42.96L497.94 43.00L498.29 43.04L498.63 43.09L498.97 43.14L499.30 43.20L499.62 43.26L499.91 43.31L500.18 43.37L500.45 43.43L500.71 43.49L500.96 43.56L501.22 43.65L501.50 43.75L501.78 43.88L502.09 44.02L502.43 44.20L502.80 44.40L503.21 44.63L503.64 44.88L504.11 45.16L504.60 45.45L505.10 45.77L505.61 46.10L506.13 46.45L506.65 46.83L507.16 47.22L507.66 47.63L508.14 48.05L508.60 48.50L509.04 48.97L509.47 49.46L509.89 49.97L510.30 50.50L510.70 51.05L511.10 51.61L511.50 52.20L511.89 52.79L512.29 53.40L512.69 54.03L513.09 54.66L513.50 55.30L513.92 55.96L514.33 56.64L514.76 57.34L515.18 58.06L515.61 58.79L516.03 59.53L516.45 60.28L516.87 61.03L517.29 61.78L517.70 62.53L518.10 63.27L518.50 64.00L518.89 64.72L519.27 65.42L519.64 66.11L520.01 66.80L520.38 67.48L520.74 68.18L521.10 68.88L521.46 69.59L521.81 70.33L522.17 71.09L522.54 71.88L522.90 72.70L523.27 73.55L523.63 74.43L524.00 75.33L524.37 76.25L524.73 77.19L525.10 78.14L525.47 79.12L525.83 80.11L526.20 81.11L526.57 82.13L526.93 83.16L527.30 84.20L527.67 85.26L528.04 86.34L528.42 87.44L528.80 88.56L529.17 89.69L529.55 90.83L529.92 91.98L530.29 93.14L530.66 94.31L531.01 95.47L531.36 96.64L531.70 97.80L532.03 98.96L532.35 100.11L532.65 101.27L532.96 102.43L533.25 103.59L533.54 104.76L533.83 105.93L534.12 107.12L534.41 108.32L534.70 109.53L535.00 110.76L535.30 112.00L535.61 113.26L535.92 114.54L536.24 115.82L536.57 117.12L536.89 118.43L537.21 119.76L537.53 121.09L537.84 122.43L538.15 123.79L538.45 125.15L538.73 126.52L539.00 127.90L539.26 129.30L539.51 130.73L539.75 132.19L539.98 133.66L540.20 135.14L540.42 136.62L540.63 138.10L540.83 139.57L541.03 141.02L541.23 142.45L541.41 143.84L541.60 145.20L541.78 146.57L541.97 147.98L542.15 149.42L542.33 150.87L542.50 152.29L542.66 153.68L542.82 155.01L542.96 156.26L543.10 157.40L543.21 158.42L543.32 159.29L543.40 160.00" fill="none" stroke="#fff" stroke-width="1.3"/>
<path d="M411.20 49.30L411.53 49.82L411.94 50.47L412.41 51.23L412.95 52.08L413.53 53.01L414.15 53.99L414.79 55.01L415.45 56.05L416.11 57.09L416.76 58.10L417.40 59.08L418.00 60.00L418.58 60.86L419.15 61.68L419.71 62.48L420.27 63.26L420.84 64.04L421.41 64.84L422.00 65.65L422.59 66.50L423.21 67.40L423.84 68.36L424.51 69.39L425.20 70.50L425.93 71.69L426.68 72.96L427.47 74.28L428.28 75.65L429.10 77.07L429.94 78.54L430.79 80.03L431.64 81.56L432.50 83.10L433.34 84.66L434.18 86.23L435.00 87.80L435.82 89.39L436.65 91.01L437.49 92.67L438.33 94.35L439.18 96.05L440.01 97.77L440.84 99.50L441.66 101.23L442.45 102.96L443.23 104.69L443.98 106.40L444.70 108.10L445.39 109.79L446.07 111.49L446.73 113.19L447.37 114.89L447.99 116.59L448.60 118.29L449.19 119.99L449.76 121.67L450.32 123.35L450.86 125.02L451.39 126.67L451.90 128.30L452.40 129.93L452.89 131.58L453.36 133.24L453.82 134.89L454.27 136.53L454.69 138.16L455.10 139.76L455.49 141.32L455.85 142.85L456.20 144.32L456.51 145.74L456.80 147.10L457.06 148.42L457.29 149.74L457.49 151.04L457.67 152.31L457.82 153.55L457.96 154.72L458.07 155.84L458.18 156.87L458.27 157.82L458.35 158.66L458.43 159.40L458.50 160.00" fill="none" stroke="#fff" stroke-width="1.5" stroke-dasharray="5.5 3.3"/>
<path d="M490.3 57.5L494 120.5" fill="none" stroke="#000" stroke-width="2" stroke-dasharray="6.3 5"/>
<rect x="589" y="5.8" width="13.5" height="154.4" fill="url(#cb)"/>
<path d="M602.5 5.8v154.4" stroke="#444" stroke-width="0.6"/>
<rect x="357.8" y="207.8" width="212.4" height="100.0" fill="none" stroke="#5c5c5c" stroke-width="1"/>
<path d="M410.90 307.8v-3.7M410.90 207.8v3.7M464.00 307.8v-3.7M464.00 207.8v3.7M517.10 307.8v-3.7M517.10 207.8v3.7M357.8 257.80h3.7M570.2 257.80h-3.7" stroke="#555" stroke-width="0.9" fill="none"/>
<path d="M358.00 307.60L440.00 307.60L442.00 307.40L445.60 305.60L446.90 300.20L449.20 297.50L451.60 293.00L452.10 273.30L453.30 262.60L455.10 254.90L455.90 247.60L457.10 246.50L458.62 245.68L456.98 244.85L458.94 244.03L457.66 243.21L458.72 242.38L457.07 241.56L459.50 240.74L457.12 239.91L459.42 239.09L457.22 238.26L459.54 237.44L457.93 236.62L459.85 235.79L458.08 234.97L459.68 234.15L457.56 233.32L459.85 232.50L460.30 228.90L461.00 222.20L461.40 215.90L462.50 210.30L463.80 207.60L465.10 210.30L466.20 215.90L466.60 222.20L467.30 229.40L470.13 232.50L467.90 233.32L470.20 234.15L468.32 234.97L470.14 235.79L467.91 236.62L470.14 237.44L468.67 238.26L470.47 239.09L468.25 239.91L470.50 240.74L469.07 241.56L470.04 242.38L468.95 243.21L470.21 244.03L469.24 244.85L470.81 245.68L468.68 246.50L471.70 248.00L472.50 254.90L473.80 260.80L475.60 269.70L476.10 289.50L477.90 295.70L481.00 299.30L482.00 304.70L484.20 307.40L487.00 307.60L570.00 307.60" fill="none" stroke="#f00" stroke-width="1.4" stroke-linejoin="round"/>
<path d="M358.00 258.10L432.20 258.10L435.00 258.60L437.60 259.90L439.70 262.60L440.80 266.10L442.50 266.60L444.70 268.80L447.40 269.70L449.50 271.80L451.90 274.40L452.80 272.60L454.00 274.90L458.20 278.70L459.00 280.60L463.60 284.10L469.80 289.70L470.60 288.50L471.50 291.00L475.20 293.90L477.00 291.60L478.50 294.00L482.40 297.00L483.50 296.30L486.90 300.20L488.10 303.80L490.50 306.30L495.00 307.40L505.00 307.60L570.00 307.60" fill="none" stroke="#000" stroke-width="1.4" stroke-linejoin="round"/>
<path d="M526 219.3H561.5" stroke="#f00" stroke-width="1.4"/><path d="M526 233H561.5" stroke="#000" stroke-width="1.4"/>
<g filter="url(#idf)">
<text x="56.8" y="10.9" class="se" font-size="13.6" text-anchor="end" fill="#000" >0.006</text>
<text x="56.8" y="61.4" class="se" font-size="13.6" text-anchor="end" fill="#000" >0.004</text>
<text x="56.8" y="112.7" class="se" font-size="13.6" text-anchor="end" fill="#000" >0.002</text>
<text x="56.8" y="164.0" class="se" font-size="13.6" text-anchor="end" fill="#000" >0</text>
<text x="56.8" y="196.9" class="se" font-size="13.6" text-anchor="end" fill="#000" >0.005</text>
<text x="56.8" y="251.4" class="se" font-size="13.6" text-anchor="end" fill="#000" >0.01</text>
<text x="56.8" y="305.9" class="se" font-size="13.6" text-anchor="end" fill="#000" >0.015</text>
<text x="66.6" y="330.8" class="se" font-size="13.6" text-anchor="middle" fill="#000" >1</text>
<text x="327.3" y="176.4" class="se" font-size="13.6" text-anchor="middle" fill="#000" >1</text>
<text x="117.9" y="330.8" class="se" font-size="13.6" text-anchor="middle" fill="#000" >1.1</text>
<text x="378.8" y="176.4" class="se" font-size="13.6" text-anchor="middle" fill="#000" >1.1</text>
<text x="169.2" y="330.8" class="se" font-size="13.6" text-anchor="middle" fill="#000" >1.2</text>
<text x="430.2" y="176.4" class="se" font-size="13.6" text-anchor="middle" fill="#000" >1.2</text>
<text x="220.5" y="330.8" class="se" font-size="13.6" text-anchor="middle" fill="#000" >1.3</text>
<text x="481.7" y="176.4" class="se" font-size="13.6" text-anchor="middle" fill="#000" >1.3</text>
<text x="271.8" y="330.8" class="se" font-size="13.6" text-anchor="middle" fill="#000" >1.4</text>
<text x="533.1" y="176.4" class="se" font-size="13.6" text-anchor="middle" fill="#000" >1.4</text>
<text x="323.1" y="330.8" class="se" font-size="13.6" text-anchor="middle" fill="#000" >1.5</text>
<text x="584.6" y="176.4" class="se" font-size="13.6" text-anchor="middle" fill="#000" >1.5</text>
<text x="202.2" y="344.6" class="se" font-size="14.3" text-anchor="middle" fill="#000" ><tspan font-style="italic">U/W</tspan></text>
<text x="463.0" y="191.2" class="se" font-size="14.3" text-anchor="middle" fill="#000" ><tspan font-style="italic">U/W</tspan></text>
<text x="614.0" y="40.4" class="se" font-size="13.6" text-anchor="start" fill="#000" >0.015</text>
<text x="614.0" y="90.4" class="se" font-size="13.6" text-anchor="start" fill="#000" >0.01</text>
<text x="614.0" y="140.2" class="se" font-size="13.6" text-anchor="start" fill="#000" >0.005</text>
<text x="350.4" y="212.2" class="se" font-size="13.6" text-anchor="end" fill="#000" >2</text>
<text x="350.4" y="262.2" class="se" font-size="13.6" text-anchor="end" fill="#000" >1</text>
<text x="350.4" y="312.2" class="se" font-size="13.6" text-anchor="end" fill="#000" >0</text>
<text x="358.1" y="327.0" class="se" font-size="13.6" text-anchor="middle" fill="#000" >-0.04</text>
<text x="411.2" y="327.0" class="se" font-size="13.6" text-anchor="middle" fill="#000" >-0.02</text>
<text x="465.4" y="327.0" class="se" font-size="13.6" text-anchor="middle" fill="#000" >0</text>
<text x="518.5" y="327.0" class="se" font-size="13.6" text-anchor="middle" fill="#000" >0.02</text>
<text x="571.6" y="327.0" class="se" font-size="13.6" text-anchor="middle" fill="#000" >0.04</text>
<text x="471.8" y="342.3" class="se" font-size="14.3" text-anchor="middle" fill="#000" >ω<tspan font-style="italic">/W</tspan></text>
<text transform="translate(15.2 82.5) rotate(-90)" class="se" font-size="16.5" text-anchor="middle">Electric field, <tspan font-style="italic">E</tspan></text>
<text transform="translate(15.2 236.6) rotate(-90)" class="se" font-size="17.2" text-anchor="middle">Temperature, <tspan font-style="italic">T</tspan><tspan font-size="12" dy="3">b</tspan></text>
<text x="72.6" y="29.8" class="se" font-size="19.3" text-anchor="start" fill="#000" >(a)</text>
<text x="72.6" y="189.2" class="se" font-size="19.3" text-anchor="start" fill="#000" >(b)</text>
<text x="334.8" y="29.8" class="se" font-size="19.3" text-anchor="start" fill="#000" >(c)</text>
<text x="363.0" y="229.3" class="se" font-size="19.3" text-anchor="start" fill="#000" >(d)</text>
<text x="127.4" y="33.4" class="se" font-size="14.9" text-anchor="start" fill="#000" ><tspan font-style="italic">T</tspan><tspan font-size="11.5" dy="3">b</tspan><tspan dy="-3"> = 0.0025</tspan></text>
<text x="194.6" y="262.1" class="se" font-size="15.6" text-anchor="start" fill="#000" font-style="italic">E</text>
<text x="211.2" y="262.1" class="se" font-size="15.6" text-anchor="start" fill="#000" >=</text>
<text x="224.5" y="262.1" class="se" font-size="15.6" text-anchor="start" fill="#000" >0.0</text>
<text x="256.0" y="52.2" class="sa" font-size="14.5" text-anchor="start" fill="#000" letter-spacing="0.72">insulator</text>
<text x="220.0" y="90.0" class="sa" font-size="14.5" text-anchor="middle" fill="#000" letter-spacing="0.5">coexistence</text>
<text x="227.3" y="107.3" class="sa" font-size="14.5" text-anchor="middle" fill="#000" letter-spacing="0.5">region</text>
<text x="100.4" y="114.5" class="sa" font-size="14.5" text-anchor="start" fill="#000" letter-spacing="0.95">metal</text>
<text x="74.3" y="216.0" class="sa" font-size="14.5" text-anchor="start" fill="#000" letter-spacing="0.95">metal</text>
<text x="231.6" y="219.3" class="sa" font-size="14.5" text-anchor="start" fill="#000" letter-spacing="0.72">insulator</text>
<text x="359.4" y="112.0" class="sa" font-size="14.5" text-anchor="start" fill="#fff" letter-spacing="0.95">metal</text>
<text x="541.6" y="80.8" class="sa" font-size="14.5" text-anchor="start" fill="#fff" letter-spacing="0.6">ins.</text>
<text x="427.4" y="30.0" class="sa" font-size="14.5" text-anchor="start" fill="#fff" ><tspan class="se" font-style="italic" font-size="16.3">T</tspan><tspan class="se" font-size="11.5" dy="3.2">eff</tspan></text>
<text x="450.8" y="30.0" class="sa" font-size="14.5" text-anchor="start" fill="#fff" >,</text>
<text x="459.7" y="30.0" class="sa" font-size="14.5" text-anchor="start" fill="#fff" letter-spacing="0.58">increasing</text>
<text x="535.2" y="30.0" class="se" font-size="16.3" text-anchor="start" fill="#fff" font-style="italic">E</text>
<text x="370.6" y="280.5" class="se" font-size="13.7" text-anchor="start" fill="#000" ><tspan font-style="italic">U</tspan> = 1.38</text>
<text x="370.6" y="293.9" class="se" font-size="13.7" text-anchor="start" fill="#000" ><tspan font-style="italic">E</tspan> = 0.0023</text>
<text x="517.5" y="223.5" class="se" font-size="13.5" text-anchor="end" fill="#000" ><tspan font-style="italic">A</tspan>(ω)</text>
<text x="517.5" y="237.0" class="se" font-size="13.5" text-anchor="end" fill="#000" >f<tspan font-size="11" dy="3">loc</tspan><tspan dy="-3">(ω)</tspan></text>
</g>
</svg></body></html>
